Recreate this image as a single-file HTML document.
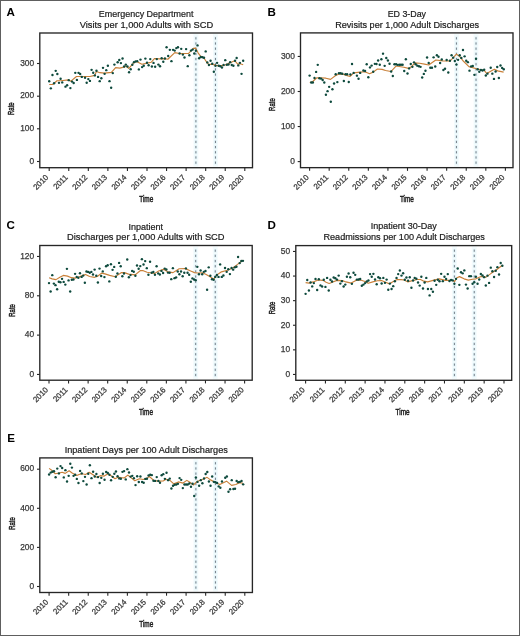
<!DOCTYPE html><html><head><meta charset="utf-8"><style>html,body{margin:0;padding:0;background:#fff;}svg{display:block;will-change:transform}</style></head><body>
<svg width="520" height="636" viewBox="0 0 520 636" font-family='"Liberation Sans", sans-serif'>
<rect x="0" y="0" width="520" height="636" fill="#fff"/>
<rect x="0.5" y="0.5" width="519" height="635" fill="none" stroke="#5e5e5e" stroke-width="1"/>
<text x="6.60" y="16.20" font-size="11.6" font-weight="bold" fill="#000">A</text>
<text x="146.12" y="16.50" font-size="9.35" fill="#1a1a1a" stroke="#1a1a1a" stroke-width="0.2" text-anchor="middle" textLength="94.65" lengthAdjust="spacingAndGlyphs">Emergency Department</text>
<text x="146.40" y="27.80" font-size="9.35" fill="#1a1a1a" stroke="#1a1a1a" stroke-width="0.2" text-anchor="middle" textLength="133.50" lengthAdjust="spacingAndGlyphs">Visits per 1,000 Adults with SCD</text>
<line x1="195.90" y1="34.00" x2="195.90" y2="166.70" stroke="#f3fbfd" stroke-width="5"/>
<path d="M195.90 160.75V164.55M195.90 155.57V159.37M195.90 150.39V154.19M195.90 145.21V149.01M195.90 140.03V143.83M195.90 134.85V138.65M195.90 129.67V133.47M195.90 124.49V128.29M195.90 119.31V123.11M195.90 114.13V117.93M195.90 108.95V112.75M195.90 103.77V107.57M195.90 98.59V102.39M195.90 93.41V97.21M195.90 88.23V92.03M195.90 83.05V86.85M195.90 77.87V81.67M195.90 72.69V76.49M195.90 67.51V71.31M195.90 62.33V66.13M195.90 57.15V60.95M195.90 51.97V55.77M195.90 46.79V50.59M195.90 41.61V45.41M195.90 36.43V40.23" stroke="#e2f3f8" stroke-width="2.6" fill="none"/>
<path d="M195.90 161.55V163.75M195.90 156.37V158.57M195.90 151.19V153.39M195.90 146.01V148.21M195.90 140.83V143.03M195.90 135.65V137.85M195.90 130.47V132.67M195.90 125.29V127.49M195.90 120.11V122.31M195.90 114.93V117.13M195.90 109.75V111.95M195.90 104.57V106.77M195.90 99.39V101.59M195.90 94.21V96.41M195.90 89.03V91.23M195.90 83.85V86.05M195.90 78.67V80.87M195.90 73.49V75.69M195.90 68.31V70.51M195.90 63.13V65.33M195.90 57.95V60.15M195.90 52.77V54.97M195.90 47.59V49.79M195.90 42.41V44.61M195.90 37.23V39.43" stroke="#767f88" stroke-width="1" fill="none"/>
<line x1="215.46" y1="34.00" x2="215.46" y2="166.70" stroke="#f3fbfd" stroke-width="5"/>
<path d="M215.46 160.75V164.55M215.46 155.57V159.37M215.46 150.39V154.19M215.46 145.21V149.01M215.46 140.03V143.83M215.46 134.85V138.65M215.46 129.67V133.47M215.46 124.49V128.29M215.46 119.31V123.11M215.46 114.13V117.93M215.46 108.95V112.75M215.46 103.77V107.57M215.46 98.59V102.39M215.46 93.41V97.21M215.46 88.23V92.03M215.46 83.05V86.85M215.46 77.87V81.67M215.46 72.69V76.49M215.46 67.51V71.31M215.46 62.33V66.13M215.46 57.15V60.95M215.46 51.97V55.77M215.46 46.79V50.59M215.46 41.61V45.41M215.46 36.43V40.23" stroke="#e2f3f8" stroke-width="2.6" fill="none"/>
<path d="M215.46 161.55V163.75M215.46 156.37V158.57M215.46 151.19V153.39M215.46 146.01V148.21M215.46 140.83V143.03M215.46 135.65V137.85M215.46 130.47V132.67M215.46 125.29V127.49M215.46 120.11V122.31M215.46 114.93V117.13M215.46 109.75V111.95M215.46 104.57V106.77M215.46 99.39V101.59M215.46 94.21V96.41M215.46 89.03V91.23M215.46 83.85V86.05M215.46 78.67V80.87M215.46 73.49V75.69M215.46 68.31V70.51M215.46 63.13V65.33M215.46 57.95V60.15M215.46 52.77V54.97M215.46 47.59V49.79M215.46 42.41V44.61M215.46 37.23V39.43" stroke="#767f88" stroke-width="1" fill="none"/>
<polyline points="49.20,84.54 52.77,84.54 57.00,80.73 60.81,80.73 68.42,79.88 70.96,81.15 76.46,76.50 81.54,76.50 86.00,76.54 89.92,76.52 94.85,75.38 96.38,71.54 99.85,72.69 104.46,73.08 111.38,72.31 115.62,67.69 119.85,68.08 124.73,66.92 126.00,65.77 128.85,68.46 133.46,63.08 136.54,61.54 141.92,64.23 147.31,63.08 151.15,62.31 154.62,58.46 159.62,58.85 164.50,58.58 167.85,59.23 174.77,52.69 179.38,53.46 188.62,53.46 193.23,48.31 195.54,48.08 198.23,53.08 200.92,56.54 203.50,57.52 207.23,62.85 208.92,64.54 212.31,64.12 215.69,65.39 219.92,65.81 225.00,64.96 230.08,62.85 234.73,60.73 237.69,64.12 240.23,63.69 243.17,64.71" fill="none" stroke="#c98039" stroke-width="1.15" stroke-linejoin="round"/>
<circle cx="49.20" cy="81.32" r="1.2" fill="#0e4a3d"/>
<circle cx="50.83" cy="88.35" r="1.2" fill="#0e4a3d"/>
<circle cx="52.46" cy="75.06" r="1.2" fill="#0e4a3d"/>
<circle cx="54.09" cy="83.27" r="1.2" fill="#0e4a3d"/>
<circle cx="55.72" cy="70.83" r="1.2" fill="#0e4a3d"/>
<circle cx="57.35" cy="73.96" r="1.2" fill="#0e4a3d"/>
<circle cx="58.98" cy="82.85" r="1.2" fill="#0e4a3d"/>
<circle cx="60.61" cy="78.78" r="1.2" fill="#0e4a3d"/>
<circle cx="62.24" cy="82.42" r="1.2" fill="#0e4a3d"/>
<circle cx="65.50" cy="86.65" r="1.2" fill="#0e4a3d"/>
<circle cx="67.13" cy="85.22" r="1.2" fill="#0e4a3d"/>
<circle cx="68.76" cy="80.14" r="1.2" fill="#0e4a3d"/>
<circle cx="70.39" cy="88.09" r="1.2" fill="#0e4a3d"/>
<circle cx="72.02" cy="81.58" r="1.2" fill="#0e4a3d"/>
<circle cx="73.65" cy="83.02" r="1.2" fill="#0e4a3d"/>
<circle cx="75.28" cy="72.86" r="1.2" fill="#0e4a3d"/>
<circle cx="76.91" cy="79.88" r="1.2" fill="#0e4a3d"/>
<circle cx="78.54" cy="72.86" r="1.2" fill="#0e4a3d"/>
<circle cx="80.17" cy="73.96" r="1.2" fill="#0e4a3d"/>
<circle cx="81.80" cy="76.92" r="1.2" fill="#0e4a3d"/>
<circle cx="85.06" cy="77.77" r="1.2" fill="#0e4a3d"/>
<circle cx="86.69" cy="82.68" r="1.2" fill="#0e4a3d"/>
<circle cx="88.32" cy="79.08" r="1.2" fill="#0e4a3d"/>
<circle cx="89.95" cy="80.92" r="1.2" fill="#0e4a3d"/>
<circle cx="91.58" cy="69.85" r="1.2" fill="#0e4a3d"/>
<circle cx="93.21" cy="72.69" r="1.2" fill="#0e4a3d"/>
<circle cx="94.84" cy="75.38" r="1.2" fill="#0e4a3d"/>
<circle cx="96.47" cy="70.77" r="1.2" fill="#0e4a3d"/>
<circle cx="98.10" cy="76.92" r="1.2" fill="#0e4a3d"/>
<circle cx="99.73" cy="81.15" r="1.2" fill="#0e4a3d"/>
<circle cx="101.36" cy="78.31" r="1.2" fill="#0e4a3d"/>
<circle cx="102.99" cy="67.85" r="1.2" fill="#0e4a3d"/>
<circle cx="104.62" cy="73.85" r="1.2" fill="#0e4a3d"/>
<circle cx="106.25" cy="70.15" r="1.2" fill="#0e4a3d"/>
<circle cx="107.88" cy="65.77" r="1.2" fill="#0e4a3d"/>
<circle cx="109.51" cy="81.15" r="1.2" fill="#0e4a3d"/>
<circle cx="111.14" cy="87.69" r="1.2" fill="#0e4a3d"/>
<circle cx="112.77" cy="73.08" r="1.2" fill="#0e4a3d"/>
<circle cx="114.40" cy="64.62" r="1.2" fill="#0e4a3d"/>
<circle cx="117.66" cy="62.31" r="1.2" fill="#0e4a3d"/>
<circle cx="119.29" cy="60.00" r="1.2" fill="#0e4a3d"/>
<circle cx="120.92" cy="63.08" r="1.2" fill="#0e4a3d"/>
<circle cx="122.55" cy="58.46" r="1.2" fill="#0e4a3d"/>
<circle cx="124.18" cy="66.54" r="1.2" fill="#0e4a3d"/>
<circle cx="125.81" cy="64.62" r="1.2" fill="#0e4a3d"/>
<circle cx="127.44" cy="66.54" r="1.2" fill="#0e4a3d"/>
<circle cx="129.07" cy="72.31" r="1.2" fill="#0e4a3d"/>
<circle cx="130.70" cy="69.23" r="1.2" fill="#0e4a3d"/>
<circle cx="132.33" cy="64.77" r="1.2" fill="#0e4a3d"/>
<circle cx="133.96" cy="62.15" r="1.2" fill="#0e4a3d"/>
<circle cx="135.59" cy="61.38" r="1.2" fill="#0e4a3d"/>
<circle cx="137.22" cy="61.15" r="1.2" fill="#0e4a3d"/>
<circle cx="138.85" cy="69.38" r="1.2" fill="#0e4a3d"/>
<circle cx="140.48" cy="59.62" r="1.2" fill="#0e4a3d"/>
<circle cx="142.11" cy="67.08" r="1.2" fill="#0e4a3d"/>
<circle cx="143.74" cy="65.77" r="1.2" fill="#0e4a3d"/>
<circle cx="145.37" cy="58.62" r="1.2" fill="#0e4a3d"/>
<circle cx="147.00" cy="62.69" r="1.2" fill="#0e4a3d"/>
<circle cx="148.63" cy="65.23" r="1.2" fill="#0e4a3d"/>
<circle cx="150.26" cy="59.08" r="1.2" fill="#0e4a3d"/>
<circle cx="151.89" cy="66.54" r="1.2" fill="#0e4a3d"/>
<circle cx="153.52" cy="62.92" r="1.2" fill="#0e4a3d"/>
<circle cx="155.15" cy="66.77" r="1.2" fill="#0e4a3d"/>
<circle cx="156.78" cy="59.08" r="1.2" fill="#0e4a3d"/>
<circle cx="158.41" cy="64.62" r="1.2" fill="#0e4a3d"/>
<circle cx="160.04" cy="66.31" r="1.2" fill="#0e4a3d"/>
<circle cx="161.67" cy="58.31" r="1.2" fill="#0e4a3d"/>
<circle cx="163.30" cy="61.69" r="1.2" fill="#0e4a3d"/>
<circle cx="164.93" cy="58.46" r="1.2" fill="#0e4a3d"/>
<circle cx="166.56" cy="47.31" r="1.2" fill="#0e4a3d"/>
<circle cx="168.19" cy="56.00" r="1.2" fill="#0e4a3d"/>
<circle cx="169.82" cy="49.85" r="1.2" fill="#0e4a3d"/>
<circle cx="171.45" cy="61.15" r="1.2" fill="#0e4a3d"/>
<circle cx="173.08" cy="49.85" r="1.2" fill="#0e4a3d"/>
<circle cx="174.71" cy="50.62" r="1.2" fill="#0e4a3d"/>
<circle cx="176.34" cy="48.08" r="1.2" fill="#0e4a3d"/>
<circle cx="177.97" cy="47.31" r="1.2" fill="#0e4a3d"/>
<circle cx="179.60" cy="53.46" r="1.2" fill="#0e4a3d"/>
<circle cx="181.23" cy="48.85" r="1.2" fill="#0e4a3d"/>
<circle cx="182.86" cy="54.62" r="1.2" fill="#0e4a3d"/>
<circle cx="184.49" cy="57.54" r="1.2" fill="#0e4a3d"/>
<circle cx="186.12" cy="49.08" r="1.2" fill="#0e4a3d"/>
<circle cx="187.75" cy="66.15" r="1.2" fill="#0e4a3d"/>
<circle cx="189.38" cy="55.23" r="1.2" fill="#0e4a3d"/>
<circle cx="191.01" cy="50.62" r="1.2" fill="#0e4a3d"/>
<circle cx="192.64" cy="49.62" r="1.2" fill="#0e4a3d"/>
<circle cx="194.27" cy="53.46" r="1.2" fill="#0e4a3d"/>
<circle cx="195.90" cy="50.77" r="1.2" fill="#0e4a3d"/>
<circle cx="197.53" cy="45.38" r="1.2" fill="#0e4a3d"/>
<circle cx="199.16" cy="58.31" r="1.2" fill="#0e4a3d"/>
<circle cx="200.79" cy="56.92" r="1.2" fill="#0e4a3d"/>
<circle cx="202.42" cy="57.31" r="1.2" fill="#0e4a3d"/>
<circle cx="204.05" cy="57.77" r="1.2" fill="#0e4a3d"/>
<circle cx="205.68" cy="51.42" r="1.2" fill="#0e4a3d"/>
<circle cx="207.31" cy="62.42" r="1.2" fill="#0e4a3d"/>
<circle cx="208.94" cy="64.96" r="1.2" fill="#0e4a3d"/>
<circle cx="210.57" cy="60.73" r="1.2" fill="#0e4a3d"/>
<circle cx="212.20" cy="63.69" r="1.2" fill="#0e4a3d"/>
<circle cx="213.83" cy="71.73" r="1.2" fill="#0e4a3d"/>
<circle cx="215.46" cy="65.81" r="1.2" fill="#0e4a3d"/>
<circle cx="217.09" cy="62.85" r="1.2" fill="#0e4a3d"/>
<circle cx="218.72" cy="65.81" r="1.2" fill="#0e4a3d"/>
<circle cx="220.35" cy="66.23" r="1.2" fill="#0e4a3d"/>
<circle cx="221.98" cy="67.50" r="1.2" fill="#0e4a3d"/>
<circle cx="223.61" cy="64.96" r="1.2" fill="#0e4a3d"/>
<circle cx="225.24" cy="60.14" r="1.2" fill="#0e4a3d"/>
<circle cx="226.87" cy="64.71" r="1.2" fill="#0e4a3d"/>
<circle cx="228.50" cy="64.54" r="1.2" fill="#0e4a3d"/>
<circle cx="230.13" cy="62.17" r="1.2" fill="#0e4a3d"/>
<circle cx="231.76" cy="64.96" r="1.2" fill="#0e4a3d"/>
<circle cx="233.39" cy="65.81" r="1.2" fill="#0e4a3d"/>
<circle cx="235.02" cy="60.73" r="1.2" fill="#0e4a3d"/>
<circle cx="236.65" cy="57.94" r="1.2" fill="#0e4a3d"/>
<circle cx="238.28" cy="65.39" r="1.2" fill="#0e4a3d"/>
<circle cx="239.91" cy="62.85" r="1.2" fill="#0e4a3d"/>
<circle cx="241.54" cy="73.85" r="1.2" fill="#0e4a3d"/>
<circle cx="243.17" cy="60.73" r="1.2" fill="#0e4a3d"/>
<rect x="39.80" y="33.00" width="212.70" height="134.70" fill="none" stroke="#262626" stroke-width="1.35"/>
<line x1="37.00" y1="161.50" x2="39.80" y2="161.50" stroke="#262626" stroke-width="1.1"/>
<text x="34.20" y="163.75" font-size="8.4" fill="#3a3a3a" stroke="#3a3a3a" stroke-width="0.25" text-anchor="end">0</text>
<line x1="37.00" y1="128.80" x2="39.80" y2="128.80" stroke="#262626" stroke-width="1.1"/>
<text x="34.20" y="131.05" font-size="8.4" fill="#3a3a3a" stroke="#3a3a3a" stroke-width="0.25" text-anchor="end">100</text>
<line x1="37.00" y1="96.20" x2="39.80" y2="96.20" stroke="#262626" stroke-width="1.1"/>
<text x="34.20" y="98.45" font-size="8.4" fill="#3a3a3a" stroke="#3a3a3a" stroke-width="0.25" text-anchor="end">200</text>
<line x1="37.00" y1="63.50" x2="39.80" y2="63.50" stroke="#262626" stroke-width="1.1"/>
<text x="34.20" y="65.75" font-size="8.4" fill="#3a3a3a" stroke="#3a3a3a" stroke-width="0.25" text-anchor="end">300</text>
<line x1="49.20" y1="167.70" x2="49.20" y2="170.90" stroke="#262626" stroke-width="1.1"/>
<text transform="translate(44.90,173.90) rotate(-45)" x="0" y="0" font-size="7.9" fill="#3a3a3a" stroke="#3a3a3a" stroke-width="0.25" text-anchor="end" dominant-baseline="hanging">2010</text>
<line x1="68.76" y1="167.70" x2="68.76" y2="170.90" stroke="#262626" stroke-width="1.1"/>
<text transform="translate(64.46,173.90) rotate(-45)" x="0" y="0" font-size="7.9" fill="#3a3a3a" stroke="#3a3a3a" stroke-width="0.25" text-anchor="end" dominant-baseline="hanging">2011</text>
<line x1="88.32" y1="167.70" x2="88.32" y2="170.90" stroke="#262626" stroke-width="1.1"/>
<text transform="translate(84.02,173.90) rotate(-45)" x="0" y="0" font-size="7.9" fill="#3a3a3a" stroke="#3a3a3a" stroke-width="0.25" text-anchor="end" dominant-baseline="hanging">2012</text>
<line x1="107.88" y1="167.70" x2="107.88" y2="170.90" stroke="#262626" stroke-width="1.1"/>
<text transform="translate(103.58,173.90) rotate(-45)" x="0" y="0" font-size="7.9" fill="#3a3a3a" stroke="#3a3a3a" stroke-width="0.25" text-anchor="end" dominant-baseline="hanging">2013</text>
<line x1="127.44" y1="167.70" x2="127.44" y2="170.90" stroke="#262626" stroke-width="1.1"/>
<text transform="translate(123.14,173.90) rotate(-45)" x="0" y="0" font-size="7.9" fill="#3a3a3a" stroke="#3a3a3a" stroke-width="0.25" text-anchor="end" dominant-baseline="hanging">2014</text>
<line x1="147.00" y1="167.70" x2="147.00" y2="170.90" stroke="#262626" stroke-width="1.1"/>
<text transform="translate(142.70,173.90) rotate(-45)" x="0" y="0" font-size="7.9" fill="#3a3a3a" stroke="#3a3a3a" stroke-width="0.25" text-anchor="end" dominant-baseline="hanging">2015</text>
<line x1="166.56" y1="167.70" x2="166.56" y2="170.90" stroke="#262626" stroke-width="1.1"/>
<text transform="translate(162.26,173.90) rotate(-45)" x="0" y="0" font-size="7.9" fill="#3a3a3a" stroke="#3a3a3a" stroke-width="0.25" text-anchor="end" dominant-baseline="hanging">2016</text>
<line x1="186.12" y1="167.70" x2="186.12" y2="170.90" stroke="#262626" stroke-width="1.1"/>
<text transform="translate(181.82,173.90) rotate(-45)" x="0" y="0" font-size="7.9" fill="#3a3a3a" stroke="#3a3a3a" stroke-width="0.25" text-anchor="end" dominant-baseline="hanging">2017</text>
<line x1="205.68" y1="167.70" x2="205.68" y2="170.90" stroke="#262626" stroke-width="1.1"/>
<text transform="translate(201.38,173.90) rotate(-45)" x="0" y="0" font-size="7.9" fill="#3a3a3a" stroke="#3a3a3a" stroke-width="0.25" text-anchor="end" dominant-baseline="hanging">2018</text>
<line x1="225.24" y1="167.70" x2="225.24" y2="170.90" stroke="#262626" stroke-width="1.1"/>
<text transform="translate(220.94,173.90) rotate(-45)" x="0" y="0" font-size="7.9" fill="#3a3a3a" stroke="#3a3a3a" stroke-width="0.25" text-anchor="end" dominant-baseline="hanging">2019</text>
<line x1="244.80" y1="167.70" x2="244.80" y2="170.90" stroke="#262626" stroke-width="1.1"/>
<text transform="translate(240.50,173.90) rotate(-45)" x="0" y="0" font-size="7.9" fill="#3a3a3a" stroke="#3a3a3a" stroke-width="0.25" text-anchor="end" dominant-baseline="hanging">2020</text>
<text x="146.25" y="202.10" font-size="8.6" fill="#1a1a1a" stroke="#1a1a1a" stroke-width="0.45" text-anchor="middle" textLength="14.0" lengthAdjust="spacingAndGlyphs">Time</text>
<text transform="translate(14.40,108.70) rotate(-90)" x="0" y="0" font-size="9.6" fill="#1a1a1a" stroke="#1a1a1a" stroke-width="0.45" text-anchor="middle" textLength="12.6" lengthAdjust="spacingAndGlyphs">Rate</text>
<text x="267.40" y="16.30" font-size="11.6" font-weight="bold" fill="#000">B</text>
<text x="406.85" y="16.50" font-size="9.35" fill="#1a1a1a" stroke="#1a1a1a" stroke-width="0.2" text-anchor="middle" textLength="38.40" lengthAdjust="spacingAndGlyphs">ED 3-Day</text>
<text x="407.15" y="27.70" font-size="9.35" fill="#1a1a1a" stroke="#1a1a1a" stroke-width="0.2" text-anchor="middle" textLength="144.00" lengthAdjust="spacingAndGlyphs">Revisits per 1,000 Adult Discharges</text>
<line x1="456.45" y1="33.90" x2="456.45" y2="166.65" stroke="#f3fbfd" stroke-width="5"/>
<path d="M456.45 160.75V164.55M456.45 155.57V159.37M456.45 150.39V154.19M456.45 145.21V149.01M456.45 140.03V143.83M456.45 134.85V138.65M456.45 129.67V133.47M456.45 124.49V128.29M456.45 119.31V123.11M456.45 114.13V117.93M456.45 108.95V112.75M456.45 103.77V107.57M456.45 98.59V102.39M456.45 93.41V97.21M456.45 88.23V92.03M456.45 83.05V86.85M456.45 77.87V81.67M456.45 72.69V76.49M456.45 67.51V71.31M456.45 62.33V66.13M456.45 57.15V60.95M456.45 51.97V55.77M456.45 46.79V50.59M456.45 41.61V45.41M456.45 36.43V40.23" stroke="#e2f3f8" stroke-width="2.6" fill="none"/>
<path d="M456.45 161.55V163.75M456.45 156.37V158.57M456.45 151.19V153.39M456.45 146.01V148.21M456.45 140.83V143.03M456.45 135.65V137.85M456.45 130.47V132.67M456.45 125.29V127.49M456.45 120.11V122.31M456.45 114.93V117.13M456.45 109.75V111.95M456.45 104.57V106.77M456.45 99.39V101.59M456.45 94.21V96.41M456.45 89.03V91.23M456.45 83.85V86.05M456.45 78.67V80.87M456.45 73.49V75.69M456.45 68.31V70.51M456.45 63.13V65.33M456.45 57.95V60.15M456.45 52.77V54.97M456.45 47.59V49.79M456.45 42.41V44.61M456.45 37.23V39.43" stroke="#767f88" stroke-width="1" fill="none"/>
<line x1="476.03" y1="33.90" x2="476.03" y2="166.65" stroke="#f3fbfd" stroke-width="5"/>
<path d="M476.03 160.75V164.55M476.03 155.57V159.37M476.03 150.39V154.19M476.03 145.21V149.01M476.03 140.03V143.83M476.03 134.85V138.65M476.03 129.67V133.47M476.03 124.49V128.29M476.03 119.31V123.11M476.03 114.13V117.93M476.03 108.95V112.75M476.03 103.77V107.57M476.03 98.59V102.39M476.03 93.41V97.21M476.03 88.23V92.03M476.03 83.05V86.85M476.03 77.87V81.67M476.03 72.69V76.49M476.03 67.51V71.31M476.03 62.33V66.13M476.03 57.15V60.95M476.03 51.97V55.77M476.03 46.79V50.59M476.03 41.61V45.41M476.03 36.43V40.23" stroke="#e2f3f8" stroke-width="2.6" fill="none"/>
<path d="M476.03 161.55V163.75M476.03 156.37V158.57M476.03 151.19V153.39M476.03 146.01V148.21M476.03 140.83V143.03M476.03 135.65V137.85M476.03 130.47V132.67M476.03 125.29V127.49M476.03 120.11V122.31M476.03 114.93V117.13M476.03 109.75V111.95M476.03 104.57V106.77M476.03 99.39V101.59M476.03 94.21V96.41M476.03 89.03V91.23M476.03 83.85V86.05M476.03 78.67V80.87M476.03 73.49V75.69M476.03 68.31V70.51M476.03 63.13V65.33M476.03 57.95V60.15M476.03 52.77V54.97M476.03 47.59V49.79M476.03 42.41V44.61M476.03 37.23V39.43" stroke="#767f88" stroke-width="1" fill="none"/>
<polyline points="309.75,82.52 312.50,81.73 316.83,77.80 319.58,77.80 325.87,78.19 330.58,79.37 335.30,75.83 338.45,74.26 342.38,73.87 346.51,75.35 349.93,76.45 353.86,72.91 360.15,72.12 364.87,71.73 369.58,73.69 373.12,72.12 377.45,68.98 382.16,69.37 385.51,70.46 390.90,71.56 396.01,66.05 403.87,67.23 408.58,68.41 411.73,66.45 414.87,62.91 419.59,63.30 424.51,64.14 428.72,64.98 435.79,60.03 442.87,60.82 449.94,61.05 453.09,57.91 456.39,54.21 457.96,55.31 459.77,56.57 463.51,61.28 468.92,66.65 476.54,68.76 484.15,70.46 486.69,73.42 494.30,69.19 497.69,70.88 503.61,72.15" fill="none" stroke="#c98039" stroke-width="1.15" stroke-linejoin="round"/>
<circle cx="309.60" cy="75.60" r="1.2" fill="#0e4a3d"/>
<circle cx="311.23" cy="82.52" r="1.2" fill="#0e4a3d"/>
<circle cx="312.86" cy="82.52" r="1.2" fill="#0e4a3d"/>
<circle cx="314.50" cy="77.96" r="1.2" fill="#0e4a3d"/>
<circle cx="316.13" cy="71.90" r="1.2" fill="#0e4a3d"/>
<circle cx="317.76" cy="64.83" r="1.2" fill="#0e4a3d"/>
<circle cx="319.39" cy="78.19" r="1.2" fill="#0e4a3d"/>
<circle cx="321.02" cy="78.58" r="1.2" fill="#0e4a3d"/>
<circle cx="322.65" cy="80.00" r="1.2" fill="#0e4a3d"/>
<circle cx="324.29" cy="82.52" r="1.2" fill="#0e4a3d"/>
<circle cx="325.92" cy="94.70" r="1.2" fill="#0e4a3d"/>
<circle cx="327.55" cy="91.16" r="1.2" fill="#0e4a3d"/>
<circle cx="329.18" cy="86.84" r="1.2" fill="#0e4a3d"/>
<circle cx="330.81" cy="101.78" r="1.2" fill="#0e4a3d"/>
<circle cx="332.44" cy="89.20" r="1.2" fill="#0e4a3d"/>
<circle cx="334.08" cy="83.46" r="1.2" fill="#0e4a3d"/>
<circle cx="335.71" cy="74.26" r="1.2" fill="#0e4a3d"/>
<circle cx="337.34" cy="82.12" r="1.2" fill="#0e4a3d"/>
<circle cx="338.97" cy="73.24" r="1.2" fill="#0e4a3d"/>
<circle cx="340.60" cy="73.24" r="1.2" fill="#0e4a3d"/>
<circle cx="342.23" cy="73.71" r="1.2" fill="#0e4a3d"/>
<circle cx="343.87" cy="80.94" r="1.2" fill="#0e4a3d"/>
<circle cx="345.50" cy="74.26" r="1.2" fill="#0e4a3d"/>
<circle cx="347.13" cy="74.25" r="1.2" fill="#0e4a3d"/>
<circle cx="348.76" cy="81.95" r="1.2" fill="#0e4a3d"/>
<circle cx="350.39" cy="74.48" r="1.2" fill="#0e4a3d"/>
<circle cx="352.02" cy="64.03" r="1.2" fill="#0e4a3d"/>
<circle cx="353.66" cy="72.91" r="1.2" fill="#0e4a3d"/>
<circle cx="356.92" cy="75.66" r="1.2" fill="#0e4a3d"/>
<circle cx="358.55" cy="78.81" r="1.2" fill="#0e4a3d"/>
<circle cx="360.18" cy="72.91" r="1.2" fill="#0e4a3d"/>
<circle cx="363.44" cy="70.55" r="1.2" fill="#0e4a3d"/>
<circle cx="365.08" cy="70.94" r="1.2" fill="#0e4a3d"/>
<circle cx="366.71" cy="64.26" r="1.2" fill="#0e4a3d"/>
<circle cx="368.34" cy="77.23" r="1.2" fill="#0e4a3d"/>
<circle cx="369.97" cy="67.41" r="1.2" fill="#0e4a3d"/>
<circle cx="371.60" cy="65.60" r="1.2" fill="#0e4a3d"/>
<circle cx="373.24" cy="71.73" r="1.2" fill="#0e4a3d"/>
<circle cx="374.87" cy="63.87" r="1.2" fill="#0e4a3d"/>
<circle cx="376.50" cy="64.03" r="1.2" fill="#0e4a3d"/>
<circle cx="378.13" cy="60.57" r="1.2" fill="#0e4a3d"/>
<circle cx="379.76" cy="64.81" r="1.2" fill="#0e4a3d"/>
<circle cx="381.39" cy="59.31" r="1.2" fill="#0e4a3d"/>
<circle cx="383.02" cy="53.65" r="1.2" fill="#0e4a3d"/>
<circle cx="384.66" cy="65.83" r="1.2" fill="#0e4a3d"/>
<circle cx="386.29" cy="57.97" r="1.2" fill="#0e4a3d"/>
<circle cx="387.92" cy="60.55" r="1.2" fill="#0e4a3d"/>
<circle cx="389.55" cy="63.69" r="1.2" fill="#0e4a3d"/>
<circle cx="391.18" cy="71.56" r="1.2" fill="#0e4a3d"/>
<circle cx="392.81" cy="76.04" r="1.2" fill="#0e4a3d"/>
<circle cx="394.45" cy="64.25" r="1.2" fill="#0e4a3d"/>
<circle cx="396.08" cy="64.25" r="1.2" fill="#0e4a3d"/>
<circle cx="397.71" cy="64.87" r="1.2" fill="#0e4a3d"/>
<circle cx="399.34" cy="64.72" r="1.2" fill="#0e4a3d"/>
<circle cx="400.97" cy="64.72" r="1.2" fill="#0e4a3d"/>
<circle cx="402.61" cy="64.72" r="1.2" fill="#0e4a3d"/>
<circle cx="404.24" cy="71.01" r="1.2" fill="#0e4a3d"/>
<circle cx="405.87" cy="59.21" r="1.2" fill="#0e4a3d"/>
<circle cx="407.50" cy="73.52" r="1.2" fill="#0e4a3d"/>
<circle cx="409.13" cy="68.41" r="1.2" fill="#0e4a3d"/>
<circle cx="410.76" cy="63.93" r="1.2" fill="#0e4a3d"/>
<circle cx="412.39" cy="66.84" r="1.2" fill="#0e4a3d"/>
<circle cx="414.03" cy="62.36" r="1.2" fill="#0e4a3d"/>
<circle cx="415.66" cy="64.25" r="1.2" fill="#0e4a3d"/>
<circle cx="417.29" cy="65.66" r="1.2" fill="#0e4a3d"/>
<circle cx="418.92" cy="66.29" r="1.2" fill="#0e4a3d"/>
<circle cx="420.55" cy="66.84" r="1.2" fill="#0e4a3d"/>
<circle cx="422.19" cy="77.45" r="1.2" fill="#0e4a3d"/>
<circle cx="423.82" cy="73.92" r="1.2" fill="#0e4a3d"/>
<circle cx="425.45" cy="70.77" r="1.2" fill="#0e4a3d"/>
<circle cx="427.08" cy="57.52" r="1.2" fill="#0e4a3d"/>
<circle cx="428.71" cy="63.02" r="1.2" fill="#0e4a3d"/>
<circle cx="430.34" cy="67.74" r="1.2" fill="#0e4a3d"/>
<circle cx="431.98" cy="67.74" r="1.2" fill="#0e4a3d"/>
<circle cx="433.61" cy="57.36" r="1.2" fill="#0e4a3d"/>
<circle cx="435.24" cy="66.56" r="1.2" fill="#0e4a3d"/>
<circle cx="436.87" cy="55.31" r="1.2" fill="#0e4a3d"/>
<circle cx="438.50" cy="56.73" r="1.2" fill="#0e4a3d"/>
<circle cx="440.13" cy="63.02" r="1.2" fill="#0e4a3d"/>
<circle cx="441.76" cy="59.48" r="1.2" fill="#0e4a3d"/>
<circle cx="443.40" cy="69.94" r="1.2" fill="#0e4a3d"/>
<circle cx="445.03" cy="68.68" r="1.2" fill="#0e4a3d"/>
<circle cx="446.66" cy="60.03" r="1.2" fill="#0e4a3d"/>
<circle cx="448.29" cy="72.45" r="1.2" fill="#0e4a3d"/>
<circle cx="449.92" cy="60.82" r="1.2" fill="#0e4a3d"/>
<circle cx="451.56" cy="55.31" r="1.2" fill="#0e4a3d"/>
<circle cx="453.19" cy="57.67" r="1.2" fill="#0e4a3d"/>
<circle cx="454.82" cy="61.05" r="1.2" fill="#0e4a3d"/>
<circle cx="456.45" cy="64.59" r="1.2" fill="#0e4a3d"/>
<circle cx="458.08" cy="59.87" r="1.2" fill="#0e4a3d"/>
<circle cx="459.71" cy="55.31" r="1.2" fill="#0e4a3d"/>
<circle cx="461.35" cy="57.91" r="1.2" fill="#0e4a3d"/>
<circle cx="462.98" cy="50.05" r="1.2" fill="#0e4a3d"/>
<circle cx="464.61" cy="56.34" r="1.2" fill="#0e4a3d"/>
<circle cx="466.24" cy="60.73" r="1.2" fill="#0e4a3d"/>
<circle cx="467.87" cy="62.17" r="1.2" fill="#0e4a3d"/>
<circle cx="469.50" cy="70.63" r="1.2" fill="#0e4a3d"/>
<circle cx="471.13" cy="66.40" r="1.2" fill="#0e4a3d"/>
<circle cx="472.77" cy="66.06" r="1.2" fill="#0e4a3d"/>
<circle cx="474.40" cy="74.86" r="1.2" fill="#0e4a3d"/>
<circle cx="476.03" cy="58.78" r="1.2" fill="#0e4a3d"/>
<circle cx="477.66" cy="69.19" r="1.2" fill="#0e4a3d"/>
<circle cx="479.29" cy="71.73" r="1.2" fill="#0e4a3d"/>
<circle cx="480.92" cy="70.03" r="1.2" fill="#0e4a3d"/>
<circle cx="482.56" cy="70.46" r="1.2" fill="#0e4a3d"/>
<circle cx="484.19" cy="69.78" r="1.2" fill="#0e4a3d"/>
<circle cx="485.82" cy="75.53" r="1.2" fill="#0e4a3d"/>
<circle cx="487.45" cy="73.67" r="1.2" fill="#0e4a3d"/>
<circle cx="490.72" cy="67.75" r="1.2" fill="#0e4a3d"/>
<circle cx="492.35" cy="73.67" r="1.2" fill="#0e4a3d"/>
<circle cx="493.98" cy="78.92" r="1.2" fill="#0e4a3d"/>
<circle cx="495.61" cy="71.47" r="1.2" fill="#0e4a3d"/>
<circle cx="497.24" cy="67.07" r="1.2" fill="#0e4a3d"/>
<circle cx="498.87" cy="78.07" r="1.2" fill="#0e4a3d"/>
<circle cx="500.50" cy="65.55" r="1.2" fill="#0e4a3d"/>
<circle cx="502.14" cy="67.92" r="1.2" fill="#0e4a3d"/>
<circle cx="503.77" cy="69.19" r="1.2" fill="#0e4a3d"/>
<rect x="300.50" y="32.90" width="212.50" height="134.75" fill="none" stroke="#262626" stroke-width="1.35"/>
<line x1="297.70" y1="161.60" x2="300.50" y2="161.60" stroke="#262626" stroke-width="1.1"/>
<text x="294.90" y="163.85" font-size="8.4" fill="#3a3a3a" stroke="#3a3a3a" stroke-width="0.25" text-anchor="end">0</text>
<line x1="297.70" y1="126.55" x2="300.50" y2="126.55" stroke="#262626" stroke-width="1.1"/>
<text x="294.90" y="128.80" font-size="8.4" fill="#3a3a3a" stroke="#3a3a3a" stroke-width="0.25" text-anchor="end">100</text>
<line x1="297.70" y1="91.50" x2="300.50" y2="91.50" stroke="#262626" stroke-width="1.1"/>
<text x="294.90" y="93.75" font-size="8.4" fill="#3a3a3a" stroke="#3a3a3a" stroke-width="0.25" text-anchor="end">200</text>
<line x1="297.70" y1="56.45" x2="300.50" y2="56.45" stroke="#262626" stroke-width="1.1"/>
<text x="294.90" y="58.70" font-size="8.4" fill="#3a3a3a" stroke="#3a3a3a" stroke-width="0.25" text-anchor="end">300</text>
<line x1="309.60" y1="167.65" x2="309.60" y2="170.85" stroke="#262626" stroke-width="1.1"/>
<text transform="translate(305.30,173.85) rotate(-45)" x="0" y="0" font-size="7.9" fill="#3a3a3a" stroke="#3a3a3a" stroke-width="0.25" text-anchor="end" dominant-baseline="hanging">2010</text>
<line x1="329.18" y1="167.65" x2="329.18" y2="170.85" stroke="#262626" stroke-width="1.1"/>
<text transform="translate(324.88,173.85) rotate(-45)" x="0" y="0" font-size="7.9" fill="#3a3a3a" stroke="#3a3a3a" stroke-width="0.25" text-anchor="end" dominant-baseline="hanging">2011</text>
<line x1="348.76" y1="167.65" x2="348.76" y2="170.85" stroke="#262626" stroke-width="1.1"/>
<text transform="translate(344.46,173.85) rotate(-45)" x="0" y="0" font-size="7.9" fill="#3a3a3a" stroke="#3a3a3a" stroke-width="0.25" text-anchor="end" dominant-baseline="hanging">2012</text>
<line x1="368.34" y1="167.65" x2="368.34" y2="170.85" stroke="#262626" stroke-width="1.1"/>
<text transform="translate(364.04,173.85) rotate(-45)" x="0" y="0" font-size="7.9" fill="#3a3a3a" stroke="#3a3a3a" stroke-width="0.25" text-anchor="end" dominant-baseline="hanging">2013</text>
<line x1="387.92" y1="167.65" x2="387.92" y2="170.85" stroke="#262626" stroke-width="1.1"/>
<text transform="translate(383.62,173.85) rotate(-45)" x="0" y="0" font-size="7.9" fill="#3a3a3a" stroke="#3a3a3a" stroke-width="0.25" text-anchor="end" dominant-baseline="hanging">2014</text>
<line x1="407.50" y1="167.65" x2="407.50" y2="170.85" stroke="#262626" stroke-width="1.1"/>
<text transform="translate(403.20,173.85) rotate(-45)" x="0" y="0" font-size="7.9" fill="#3a3a3a" stroke="#3a3a3a" stroke-width="0.25" text-anchor="end" dominant-baseline="hanging">2015</text>
<line x1="427.08" y1="167.65" x2="427.08" y2="170.85" stroke="#262626" stroke-width="1.1"/>
<text transform="translate(422.78,173.85) rotate(-45)" x="0" y="0" font-size="7.9" fill="#3a3a3a" stroke="#3a3a3a" stroke-width="0.25" text-anchor="end" dominant-baseline="hanging">2016</text>
<line x1="446.66" y1="167.65" x2="446.66" y2="170.85" stroke="#262626" stroke-width="1.1"/>
<text transform="translate(442.36,173.85) rotate(-45)" x="0" y="0" font-size="7.9" fill="#3a3a3a" stroke="#3a3a3a" stroke-width="0.25" text-anchor="end" dominant-baseline="hanging">2017</text>
<line x1="466.24" y1="167.65" x2="466.24" y2="170.85" stroke="#262626" stroke-width="1.1"/>
<text transform="translate(461.94,173.85) rotate(-45)" x="0" y="0" font-size="7.9" fill="#3a3a3a" stroke="#3a3a3a" stroke-width="0.25" text-anchor="end" dominant-baseline="hanging">2018</text>
<line x1="485.82" y1="167.65" x2="485.82" y2="170.85" stroke="#262626" stroke-width="1.1"/>
<text transform="translate(481.52,173.85) rotate(-45)" x="0" y="0" font-size="7.9" fill="#3a3a3a" stroke="#3a3a3a" stroke-width="0.25" text-anchor="end" dominant-baseline="hanging">2019</text>
<line x1="505.40" y1="167.65" x2="505.40" y2="170.85" stroke="#262626" stroke-width="1.1"/>
<text transform="translate(501.10,173.85) rotate(-45)" x="0" y="0" font-size="7.9" fill="#3a3a3a" stroke="#3a3a3a" stroke-width="0.25" text-anchor="end" dominant-baseline="hanging">2020</text>
<text x="406.90" y="202.05" font-size="8.6" fill="#1a1a1a" stroke="#1a1a1a" stroke-width="0.45" text-anchor="middle" textLength="14.0" lengthAdjust="spacingAndGlyphs">Time</text>
<text transform="translate(275.00,104.60) rotate(-90)" x="0" y="0" font-size="9.6" fill="#1a1a1a" stroke="#1a1a1a" stroke-width="0.45" text-anchor="middle" textLength="12.6" lengthAdjust="spacingAndGlyphs">Rate</text>
<text x="6.60" y="229.20" font-size="11.6" font-weight="bold" fill="#000">C</text>
<text x="145.75" y="229.60" font-size="9.35" fill="#1a1a1a" stroke="#1a1a1a" stroke-width="0.2" text-anchor="middle" textLength="34.60" lengthAdjust="spacingAndGlyphs">Inpatient</text>
<text x="145.80" y="240.40" font-size="9.35" fill="#1a1a1a" stroke="#1a1a1a" stroke-width="0.2" text-anchor="middle" textLength="157.50" lengthAdjust="spacingAndGlyphs">Discharges per 1,000 Adults with SCD</text>
<line x1="195.70" y1="246.50" x2="195.70" y2="379.20" stroke="#f3fbfd" stroke-width="5"/>
<path d="M195.70 373.10V376.90M195.70 367.92V371.72M195.70 362.74V366.54M195.70 357.56V361.36M195.70 352.38V356.18M195.70 347.20V351.00M195.70 342.02V345.82M195.70 336.84V340.64M195.70 331.66V335.46M195.70 326.48V330.28M195.70 321.30V325.10M195.70 316.12V319.92M195.70 310.94V314.74M195.70 305.76V309.56M195.70 300.58V304.38M195.70 295.40V299.20M195.70 290.22V294.02M195.70 285.04V288.84M195.70 279.86V283.66M195.70 274.68V278.48M195.70 269.50V273.30M195.70 264.32V268.12M195.70 259.14V262.94M195.70 253.96V257.76M195.70 248.78V252.58" stroke="#e2f3f8" stroke-width="2.6" fill="none"/>
<path d="M195.70 373.90V376.10M195.70 368.72V370.92M195.70 363.54V365.74M195.70 358.36V360.56M195.70 353.18V355.38M195.70 348.00V350.20M195.70 342.82V345.02M195.70 337.64V339.84M195.70 332.46V334.66M195.70 327.28V329.48M195.70 322.10V324.30M195.70 316.92V319.12M195.70 311.74V313.94M195.70 306.56V308.76M195.70 301.38V303.58M195.70 296.20V298.40M195.70 291.02V293.22M195.70 285.84V288.04M195.70 280.66V282.86M195.70 275.48V277.68M195.70 270.30V272.50M195.70 265.12V267.32M195.70 259.94V262.14M195.70 254.76V256.96M195.70 249.58V251.78" stroke="#767f88" stroke-width="1" fill="none"/>
<line x1="215.26" y1="246.50" x2="215.26" y2="379.20" stroke="#f3fbfd" stroke-width="5"/>
<path d="M215.26 373.10V376.90M215.26 367.92V371.72M215.26 362.74V366.54M215.26 357.56V361.36M215.26 352.38V356.18M215.26 347.20V351.00M215.26 342.02V345.82M215.26 336.84V340.64M215.26 331.66V335.46M215.26 326.48V330.28M215.26 321.30V325.10M215.26 316.12V319.92M215.26 310.94V314.74M215.26 305.76V309.56M215.26 300.58V304.38M215.26 295.40V299.20M215.26 290.22V294.02M215.26 285.04V288.84M215.26 279.86V283.66M215.26 274.68V278.48M215.26 269.50V273.30M215.26 264.32V268.12M215.26 259.14V262.94M215.26 253.96V257.76M215.26 248.78V252.58" stroke="#e2f3f8" stroke-width="2.6" fill="none"/>
<path d="M215.26 373.90V376.10M215.26 368.72V370.92M215.26 363.54V365.74M215.26 358.36V360.56M215.26 353.18V355.38M215.26 348.00V350.20M215.26 342.82V345.02M215.26 337.64V339.84M215.26 332.46V334.66M215.26 327.28V329.48M215.26 322.10V324.30M215.26 316.92V319.12M215.26 311.74V313.94M215.26 306.56V308.76M215.26 301.38V303.58M215.26 296.20V298.40M215.26 291.02V293.22M215.26 285.84V288.04M215.26 280.66V282.86M215.26 275.48V277.68M215.26 270.30V272.50M215.26 265.12V267.32M215.26 259.94V262.14M215.26 254.76V256.96M215.26 249.58V251.78" stroke="#767f88" stroke-width="1" fill="none"/>
<polyline points="49.08,277.69 52.15,278.85 56.00,279.62 59.85,277.31 63.31,275.38 67.54,276.15 71.38,277.69 75.23,278.08 78.31,277.31 82.92,275.38 85.50,274.42 89.62,276.54 94.62,277.31 97.31,276.54 101.54,273.08 105.00,273.85 109.62,275.38 115.38,276.77 117.31,275.38 121.15,272.69 124.50,272.65 128.62,274.15 135.15,274.92 140.15,270.69 143.23,270.69 147.08,272.23 151.69,273.00 154.77,273.38 158.62,271.08 163.50,269.35 167.62,271.85 173.00,272.62 179.15,268.77 185.31,268.62 190.69,271.08 194.54,272.62 197.62,273.00 202.50,272.71 206.23,274.53 210.46,277.07 213.84,279.19 216.81,274.96 221.46,271.83 227.38,270.30 232.46,268.19 237.53,264.38 242.78,260.15" fill="none" stroke="#c98039" stroke-width="1.15" stroke-linejoin="round"/>
<circle cx="49.00" cy="283.08" r="1.2" fill="#0e4a3d"/>
<circle cx="50.63" cy="291.54" r="1.2" fill="#0e4a3d"/>
<circle cx="52.26" cy="275.15" r="1.2" fill="#0e4a3d"/>
<circle cx="53.89" cy="283.62" r="1.2" fill="#0e4a3d"/>
<circle cx="55.52" cy="285.15" r="1.2" fill="#0e4a3d"/>
<circle cx="57.15" cy="289.23" r="1.2" fill="#0e4a3d"/>
<circle cx="58.78" cy="281.77" r="1.2" fill="#0e4a3d"/>
<circle cx="60.41" cy="282.31" r="1.2" fill="#0e4a3d"/>
<circle cx="62.04" cy="278.85" r="1.2" fill="#0e4a3d"/>
<circle cx="63.67" cy="281.92" r="1.2" fill="#0e4a3d"/>
<circle cx="65.30" cy="284.62" r="1.2" fill="#0e4a3d"/>
<circle cx="66.93" cy="268.85" r="1.2" fill="#0e4a3d"/>
<circle cx="68.56" cy="280.38" r="1.2" fill="#0e4a3d"/>
<circle cx="70.19" cy="291.54" r="1.2" fill="#0e4a3d"/>
<circle cx="71.82" cy="279.77" r="1.2" fill="#0e4a3d"/>
<circle cx="73.45" cy="279.46" r="1.2" fill="#0e4a3d"/>
<circle cx="75.08" cy="273.85" r="1.2" fill="#0e4a3d"/>
<circle cx="76.71" cy="276.92" r="1.2" fill="#0e4a3d"/>
<circle cx="78.34" cy="277.69" r="1.2" fill="#0e4a3d"/>
<circle cx="79.97" cy="273.31" r="1.2" fill="#0e4a3d"/>
<circle cx="81.60" cy="276.92" r="1.2" fill="#0e4a3d"/>
<circle cx="83.23" cy="275.62" r="1.2" fill="#0e4a3d"/>
<circle cx="84.86" cy="282.69" r="1.2" fill="#0e4a3d"/>
<circle cx="86.49" cy="271.54" r="1.2" fill="#0e4a3d"/>
<circle cx="88.12" cy="271.92" r="1.2" fill="#0e4a3d"/>
<circle cx="89.75" cy="272.69" r="1.2" fill="#0e4a3d"/>
<circle cx="91.38" cy="271.92" r="1.2" fill="#0e4a3d"/>
<circle cx="93.01" cy="274.46" r="1.2" fill="#0e4a3d"/>
<circle cx="94.64" cy="269.62" r="1.2" fill="#0e4a3d"/>
<circle cx="96.27" cy="275.77" r="1.2" fill="#0e4a3d"/>
<circle cx="97.90" cy="282.46" r="1.2" fill="#0e4a3d"/>
<circle cx="99.53" cy="268.62" r="1.2" fill="#0e4a3d"/>
<circle cx="101.16" cy="276.00" r="1.2" fill="#0e4a3d"/>
<circle cx="102.79" cy="271.38" r="1.2" fill="#0e4a3d"/>
<circle cx="104.42" cy="277.08" r="1.2" fill="#0e4a3d"/>
<circle cx="106.05" cy="266.31" r="1.2" fill="#0e4a3d"/>
<circle cx="107.68" cy="265.23" r="1.2" fill="#0e4a3d"/>
<circle cx="109.31" cy="281.38" r="1.2" fill="#0e4a3d"/>
<circle cx="110.94" cy="264.23" r="1.2" fill="#0e4a3d"/>
<circle cx="112.57" cy="269.85" r="1.2" fill="#0e4a3d"/>
<circle cx="114.20" cy="266.92" r="1.2" fill="#0e4a3d"/>
<circle cx="115.83" cy="276.77" r="1.2" fill="#0e4a3d"/>
<circle cx="117.46" cy="273.46" r="1.2" fill="#0e4a3d"/>
<circle cx="119.09" cy="262.92" r="1.2" fill="#0e4a3d"/>
<circle cx="120.72" cy="266.31" r="1.2" fill="#0e4a3d"/>
<circle cx="122.35" cy="276.31" r="1.2" fill="#0e4a3d"/>
<circle cx="123.98" cy="273.46" r="1.2" fill="#0e4a3d"/>
<circle cx="127.24" cy="259.54" r="1.2" fill="#0e4a3d"/>
<circle cx="128.87" cy="277.23" r="1.2" fill="#0e4a3d"/>
<circle cx="130.50" cy="275.08" r="1.2" fill="#0e4a3d"/>
<circle cx="132.13" cy="270.92" r="1.2" fill="#0e4a3d"/>
<circle cx="133.76" cy="271.69" r="1.2" fill="#0e4a3d"/>
<circle cx="135.39" cy="275.69" r="1.2" fill="#0e4a3d"/>
<circle cx="137.02" cy="265.54" r="1.2" fill="#0e4a3d"/>
<circle cx="138.65" cy="268.77" r="1.2" fill="#0e4a3d"/>
<circle cx="140.28" cy="266.08" r="1.2" fill="#0e4a3d"/>
<circle cx="141.91" cy="259.15" r="1.2" fill="#0e4a3d"/>
<circle cx="143.54" cy="264.54" r="1.2" fill="#0e4a3d"/>
<circle cx="145.17" cy="261.08" r="1.2" fill="#0e4a3d"/>
<circle cx="146.80" cy="268.15" r="1.2" fill="#0e4a3d"/>
<circle cx="148.43" cy="274.77" r="1.2" fill="#0e4a3d"/>
<circle cx="150.06" cy="261.69" r="1.2" fill="#0e4a3d"/>
<circle cx="151.69" cy="272.77" r="1.2" fill="#0e4a3d"/>
<circle cx="153.32" cy="272.00" r="1.2" fill="#0e4a3d"/>
<circle cx="154.95" cy="274.77" r="1.2" fill="#0e4a3d"/>
<circle cx="156.58" cy="266.31" r="1.2" fill="#0e4a3d"/>
<circle cx="158.21" cy="273.38" r="1.2" fill="#0e4a3d"/>
<circle cx="159.84" cy="274.54" r="1.2" fill="#0e4a3d"/>
<circle cx="161.47" cy="270.92" r="1.2" fill="#0e4a3d"/>
<circle cx="163.10" cy="273.00" r="1.2" fill="#0e4a3d"/>
<circle cx="164.73" cy="268.62" r="1.2" fill="#0e4a3d"/>
<circle cx="166.36" cy="269.54" r="1.2" fill="#0e4a3d"/>
<circle cx="167.99" cy="272.62" r="1.2" fill="#0e4a3d"/>
<circle cx="169.62" cy="272.77" r="1.2" fill="#0e4a3d"/>
<circle cx="171.25" cy="279.15" r="1.2" fill="#0e4a3d"/>
<circle cx="172.88" cy="268.15" r="1.2" fill="#0e4a3d"/>
<circle cx="174.51" cy="278.15" r="1.2" fill="#0e4a3d"/>
<circle cx="176.14" cy="277.38" r="1.2" fill="#0e4a3d"/>
<circle cx="177.77" cy="271.46" r="1.2" fill="#0e4a3d"/>
<circle cx="179.40" cy="274.31" r="1.2" fill="#0e4a3d"/>
<circle cx="181.03" cy="271.46" r="1.2" fill="#0e4a3d"/>
<circle cx="182.66" cy="276.31" r="1.2" fill="#0e4a3d"/>
<circle cx="184.29" cy="272.77" r="1.2" fill="#0e4a3d"/>
<circle cx="185.92" cy="268.38" r="1.2" fill="#0e4a3d"/>
<circle cx="187.55" cy="272.77" r="1.2" fill="#0e4a3d"/>
<circle cx="189.18" cy="274.77" r="1.2" fill="#0e4a3d"/>
<circle cx="190.81" cy="281.69" r="1.2" fill="#0e4a3d"/>
<circle cx="192.44" cy="278.38" r="1.2" fill="#0e4a3d"/>
<circle cx="194.07" cy="279.54" r="1.2" fill="#0e4a3d"/>
<circle cx="195.70" cy="280.15" r="1.2" fill="#0e4a3d"/>
<circle cx="197.33" cy="266.85" r="1.2" fill="#0e4a3d"/>
<circle cx="198.96" cy="274.31" r="1.2" fill="#0e4a3d"/>
<circle cx="200.59" cy="270.46" r="1.2" fill="#0e4a3d"/>
<circle cx="202.22" cy="274.31" r="1.2" fill="#0e4a3d"/>
<circle cx="203.85" cy="271.83" r="1.2" fill="#0e4a3d"/>
<circle cx="205.48" cy="270.98" r="1.2" fill="#0e4a3d"/>
<circle cx="207.11" cy="289.76" r="1.2" fill="#0e4a3d"/>
<circle cx="208.74" cy="267.34" r="1.2" fill="#0e4a3d"/>
<circle cx="210.37" cy="275.80" r="1.2" fill="#0e4a3d"/>
<circle cx="212.00" cy="279.19" r="1.2" fill="#0e4a3d"/>
<circle cx="213.63" cy="279.78" r="1.2" fill="#0e4a3d"/>
<circle cx="215.26" cy="276.90" r="1.2" fill="#0e4a3d"/>
<circle cx="216.89" cy="274.96" r="1.2" fill="#0e4a3d"/>
<circle cx="218.52" cy="276.90" r="1.2" fill="#0e4a3d"/>
<circle cx="220.15" cy="264.38" r="1.2" fill="#0e4a3d"/>
<circle cx="221.78" cy="276.90" r="1.2" fill="#0e4a3d"/>
<circle cx="223.41" cy="275.55" r="1.2" fill="#0e4a3d"/>
<circle cx="225.04" cy="267.94" r="1.2" fill="#0e4a3d"/>
<circle cx="226.67" cy="271.83" r="1.2" fill="#0e4a3d"/>
<circle cx="228.30" cy="269.29" r="1.2" fill="#0e4a3d"/>
<circle cx="229.93" cy="274.11" r="1.2" fill="#0e4a3d"/>
<circle cx="231.56" cy="267.94" r="1.2" fill="#0e4a3d"/>
<circle cx="233.19" cy="269.63" r="1.2" fill="#0e4a3d"/>
<circle cx="234.82" cy="267.34" r="1.2" fill="#0e4a3d"/>
<circle cx="236.45" cy="266.75" r="1.2" fill="#0e4a3d"/>
<circle cx="238.08" cy="256.94" r="1.2" fill="#0e4a3d"/>
<circle cx="239.71" cy="263.11" r="1.2" fill="#0e4a3d"/>
<circle cx="241.34" cy="261.00" r="1.2" fill="#0e4a3d"/>
<circle cx="242.97" cy="260.83" r="1.2" fill="#0e4a3d"/>
<rect x="39.80" y="245.50" width="212.40" height="134.70" fill="none" stroke="#262626" stroke-width="1.35"/>
<line x1="37.00" y1="374.45" x2="39.80" y2="374.45" stroke="#262626" stroke-width="1.1"/>
<text x="34.20" y="376.70" font-size="8.4" fill="#3a3a3a" stroke="#3a3a3a" stroke-width="0.25" text-anchor="end">0</text>
<line x1="37.00" y1="335.12" x2="39.80" y2="335.12" stroke="#262626" stroke-width="1.1"/>
<text x="34.20" y="337.37" font-size="8.4" fill="#3a3a3a" stroke="#3a3a3a" stroke-width="0.25" text-anchor="end">40</text>
<line x1="37.00" y1="295.79" x2="39.80" y2="295.79" stroke="#262626" stroke-width="1.1"/>
<text x="34.20" y="298.04" font-size="8.4" fill="#3a3a3a" stroke="#3a3a3a" stroke-width="0.25" text-anchor="end">80</text>
<line x1="37.00" y1="256.46" x2="39.80" y2="256.46" stroke="#262626" stroke-width="1.1"/>
<text x="34.20" y="258.71" font-size="8.4" fill="#3a3a3a" stroke="#3a3a3a" stroke-width="0.25" text-anchor="end">120</text>
<line x1="49.00" y1="380.20" x2="49.00" y2="383.40" stroke="#262626" stroke-width="1.1"/>
<text transform="translate(44.70,386.40) rotate(-45)" x="0" y="0" font-size="7.9" fill="#3a3a3a" stroke="#3a3a3a" stroke-width="0.25" text-anchor="end" dominant-baseline="hanging">2010</text>
<line x1="68.56" y1="380.20" x2="68.56" y2="383.40" stroke="#262626" stroke-width="1.1"/>
<text transform="translate(64.26,386.40) rotate(-45)" x="0" y="0" font-size="7.9" fill="#3a3a3a" stroke="#3a3a3a" stroke-width="0.25" text-anchor="end" dominant-baseline="hanging">2011</text>
<line x1="88.12" y1="380.20" x2="88.12" y2="383.40" stroke="#262626" stroke-width="1.1"/>
<text transform="translate(83.82,386.40) rotate(-45)" x="0" y="0" font-size="7.9" fill="#3a3a3a" stroke="#3a3a3a" stroke-width="0.25" text-anchor="end" dominant-baseline="hanging">2012</text>
<line x1="107.68" y1="380.20" x2="107.68" y2="383.40" stroke="#262626" stroke-width="1.1"/>
<text transform="translate(103.38,386.40) rotate(-45)" x="0" y="0" font-size="7.9" fill="#3a3a3a" stroke="#3a3a3a" stroke-width="0.25" text-anchor="end" dominant-baseline="hanging">2013</text>
<line x1="127.24" y1="380.20" x2="127.24" y2="383.40" stroke="#262626" stroke-width="1.1"/>
<text transform="translate(122.94,386.40) rotate(-45)" x="0" y="0" font-size="7.9" fill="#3a3a3a" stroke="#3a3a3a" stroke-width="0.25" text-anchor="end" dominant-baseline="hanging">2014</text>
<line x1="146.80" y1="380.20" x2="146.80" y2="383.40" stroke="#262626" stroke-width="1.1"/>
<text transform="translate(142.50,386.40) rotate(-45)" x="0" y="0" font-size="7.9" fill="#3a3a3a" stroke="#3a3a3a" stroke-width="0.25" text-anchor="end" dominant-baseline="hanging">2015</text>
<line x1="166.36" y1="380.20" x2="166.36" y2="383.40" stroke="#262626" stroke-width="1.1"/>
<text transform="translate(162.06,386.40) rotate(-45)" x="0" y="0" font-size="7.9" fill="#3a3a3a" stroke="#3a3a3a" stroke-width="0.25" text-anchor="end" dominant-baseline="hanging">2016</text>
<line x1="185.92" y1="380.20" x2="185.92" y2="383.40" stroke="#262626" stroke-width="1.1"/>
<text transform="translate(181.62,386.40) rotate(-45)" x="0" y="0" font-size="7.9" fill="#3a3a3a" stroke="#3a3a3a" stroke-width="0.25" text-anchor="end" dominant-baseline="hanging">2017</text>
<line x1="205.48" y1="380.20" x2="205.48" y2="383.40" stroke="#262626" stroke-width="1.1"/>
<text transform="translate(201.18,386.40) rotate(-45)" x="0" y="0" font-size="7.9" fill="#3a3a3a" stroke="#3a3a3a" stroke-width="0.25" text-anchor="end" dominant-baseline="hanging">2018</text>
<line x1="225.04" y1="380.20" x2="225.04" y2="383.40" stroke="#262626" stroke-width="1.1"/>
<text transform="translate(220.74,386.40) rotate(-45)" x="0" y="0" font-size="7.9" fill="#3a3a3a" stroke="#3a3a3a" stroke-width="0.25" text-anchor="end" dominant-baseline="hanging">2019</text>
<line x1="244.60" y1="380.20" x2="244.60" y2="383.40" stroke="#262626" stroke-width="1.1"/>
<text transform="translate(240.30,386.40) rotate(-45)" x="0" y="0" font-size="7.9" fill="#3a3a3a" stroke="#3a3a3a" stroke-width="0.25" text-anchor="end" dominant-baseline="hanging">2020</text>
<text x="145.95" y="414.60" font-size="8.6" fill="#1a1a1a" stroke="#1a1a1a" stroke-width="0.45" text-anchor="middle" textLength="14.0" lengthAdjust="spacingAndGlyphs">Time</text>
<text transform="translate(14.50,310.40) rotate(-90)" x="0" y="0" font-size="9.6" fill="#1a1a1a" stroke="#1a1a1a" stroke-width="0.45" text-anchor="middle" textLength="12.6" lengthAdjust="spacingAndGlyphs">Rate</text>
<text x="267.60" y="228.80" font-size="11.6" font-weight="bold" fill="#000">D</text>
<text x="403.75" y="229.40" font-size="9.35" fill="#1a1a1a" stroke="#1a1a1a" stroke-width="0.2" text-anchor="middle" textLength="66.20" lengthAdjust="spacingAndGlyphs">Inpatient 30-Day</text>
<text x="404.20" y="240.00" font-size="9.35" fill="#1a1a1a" stroke="#1a1a1a" stroke-width="0.2" text-anchor="middle" textLength="161.50" lengthAdjust="spacingAndGlyphs">Readmissions per 100 Adult Discharges</text>
<line x1="454.40" y1="246.60" x2="454.40" y2="379.30" stroke="#f3fbfd" stroke-width="5"/>
<path d="M454.40 373.10V376.90M454.40 367.92V371.72M454.40 362.74V366.54M454.40 357.56V361.36M454.40 352.38V356.18M454.40 347.20V351.00M454.40 342.02V345.82M454.40 336.84V340.64M454.40 331.66V335.46M454.40 326.48V330.28M454.40 321.30V325.10M454.40 316.12V319.92M454.40 310.94V314.74M454.40 305.76V309.56M454.40 300.58V304.38M454.40 295.40V299.20M454.40 290.22V294.02M454.40 285.04V288.84M454.40 279.86V283.66M454.40 274.68V278.48M454.40 269.50V273.30M454.40 264.32V268.12M454.40 259.14V262.94M454.40 253.96V257.76M454.40 248.78V252.58" stroke="#e2f3f8" stroke-width="2.6" fill="none"/>
<path d="M454.40 373.90V376.10M454.40 368.72V370.92M454.40 363.54V365.74M454.40 358.36V360.56M454.40 353.18V355.38M454.40 348.00V350.20M454.40 342.82V345.02M454.40 337.64V339.84M454.40 332.46V334.66M454.40 327.28V329.48M454.40 322.10V324.30M454.40 316.92V319.12M454.40 311.74V313.94M454.40 306.56V308.76M454.40 301.38V303.58M454.40 296.20V298.40M454.40 291.02V293.22M454.40 285.84V288.04M454.40 280.66V282.86M454.40 275.48V277.68M454.40 270.30V272.50M454.40 265.12V267.32M454.40 259.94V262.14M454.40 254.76V256.96M454.40 249.58V251.78" stroke="#767f88" stroke-width="1" fill="none"/>
<line x1="474.24" y1="246.60" x2="474.24" y2="379.30" stroke="#f3fbfd" stroke-width="5"/>
<path d="M474.24 373.10V376.90M474.24 367.92V371.72M474.24 362.74V366.54M474.24 357.56V361.36M474.24 352.38V356.18M474.24 347.20V351.00M474.24 342.02V345.82M474.24 336.84V340.64M474.24 331.66V335.46M474.24 326.48V330.28M474.24 321.30V325.10M474.24 316.12V319.92M474.24 310.94V314.74M474.24 305.76V309.56M474.24 300.58V304.38M474.24 295.40V299.20M474.24 290.22V294.02M474.24 285.04V288.84M474.24 279.86V283.66M474.24 274.68V278.48M474.24 269.50V273.30M474.24 264.32V268.12M474.24 259.14V262.94M474.24 253.96V257.76M474.24 248.78V252.58" stroke="#e2f3f8" stroke-width="2.6" fill="none"/>
<path d="M474.24 373.90V376.10M474.24 368.72V370.92M474.24 363.54V365.74M474.24 358.36V360.56M474.24 353.18V355.38M474.24 348.00V350.20M474.24 342.82V345.02M474.24 337.64V339.84M474.24 332.46V334.66M474.24 327.28V329.48M474.24 322.10V324.30M474.24 316.92V319.12M474.24 311.74V313.94M474.24 306.56V308.76M474.24 301.38V303.58M474.24 296.20V298.40M474.24 291.02V293.22M474.24 285.84V288.04M474.24 280.66V282.86M474.24 275.48V277.68M474.24 270.30V272.50M474.24 265.12V267.32M474.24 259.94V262.14M474.24 254.76V256.96M474.24 249.58V251.78" stroke="#767f88" stroke-width="1" fill="none"/>
<polyline points="305.60,282.69 309.15,283.08 313.00,281.92 318.38,280.00 323.00,280.38 326.08,282.31 329.15,283.46 333.00,281.92 336.85,280.38 342.50,280.58 345.85,281.92 351.23,283.08 355.85,280.38 360.46,280.00 365.08,281.54 368.15,283.31 372.77,281.92 377.38,280.77 381.50,280.58 385.62,282.31 389.46,283.85 393.31,281.54 397.15,279.46 401.00,279.62 404.08,280.00 407.92,281.92 413.31,280.38 417.15,279.46 420.50,279.46 423.85,281.15 427.69,281.92 433.08,280.38 439.23,278.85 445.38,280.38 452.31,280.38 454.62,281.54 456.92,277.69 459.50,276.63 464.08,278.84 468.31,280.11 472.54,279.26 475.92,278.84 481.00,276.47 486.07,277.15 491.15,273.34 496.23,269.96 502.32,265.30" fill="none" stroke="#c98039" stroke-width="1.15" stroke-linejoin="round"/>
<circle cx="305.60" cy="293.85" r="1.2" fill="#0e4a3d"/>
<circle cx="307.25" cy="280.00" r="1.2" fill="#0e4a3d"/>
<circle cx="308.91" cy="290.54" r="1.2" fill="#0e4a3d"/>
<circle cx="310.56" cy="282.54" r="1.2" fill="#0e4a3d"/>
<circle cx="312.21" cy="286.38" r="1.2" fill="#0e4a3d"/>
<circle cx="313.87" cy="283.08" r="1.2" fill="#0e4a3d"/>
<circle cx="315.52" cy="279.00" r="1.2" fill="#0e4a3d"/>
<circle cx="317.17" cy="290.00" r="1.2" fill="#0e4a3d"/>
<circle cx="318.83" cy="279.23" r="1.2" fill="#0e4a3d"/>
<circle cx="320.48" cy="285.38" r="1.2" fill="#0e4a3d"/>
<circle cx="322.13" cy="286.54" r="1.2" fill="#0e4a3d"/>
<circle cx="323.79" cy="279.77" r="1.2" fill="#0e4a3d"/>
<circle cx="325.44" cy="286.92" r="1.2" fill="#0e4a3d"/>
<circle cx="327.09" cy="277.92" r="1.2" fill="#0e4a3d"/>
<circle cx="328.75" cy="290.54" r="1.2" fill="#0e4a3d"/>
<circle cx="330.40" cy="279.77" r="1.2" fill="#0e4a3d"/>
<circle cx="332.05" cy="281.54" r="1.2" fill="#0e4a3d"/>
<circle cx="333.71" cy="277.46" r="1.2" fill="#0e4a3d"/>
<circle cx="335.36" cy="278.23" r="1.2" fill="#0e4a3d"/>
<circle cx="337.01" cy="279.62" r="1.2" fill="#0e4a3d"/>
<circle cx="338.67" cy="275.62" r="1.2" fill="#0e4a3d"/>
<circle cx="340.32" cy="283.62" r="1.2" fill="#0e4a3d"/>
<circle cx="341.97" cy="281.15" r="1.2" fill="#0e4a3d"/>
<circle cx="343.63" cy="286.54" r="1.2" fill="#0e4a3d"/>
<circle cx="345.28" cy="284.62" r="1.2" fill="#0e4a3d"/>
<circle cx="346.93" cy="276.69" r="1.2" fill="#0e4a3d"/>
<circle cx="348.59" cy="273.46" r="1.2" fill="#0e4a3d"/>
<circle cx="350.24" cy="277.31" r="1.2" fill="#0e4a3d"/>
<circle cx="351.89" cy="283.85" r="1.2" fill="#0e4a3d"/>
<circle cx="353.55" cy="272.69" r="1.2" fill="#0e4a3d"/>
<circle cx="355.20" cy="274.85" r="1.2" fill="#0e4a3d"/>
<circle cx="356.85" cy="279.62" r="1.2" fill="#0e4a3d"/>
<circle cx="358.51" cy="279.46" r="1.2" fill="#0e4a3d"/>
<circle cx="360.16" cy="279.00" r="1.2" fill="#0e4a3d"/>
<circle cx="361.81" cy="285.77" r="1.2" fill="#0e4a3d"/>
<circle cx="363.47" cy="284.62" r="1.2" fill="#0e4a3d"/>
<circle cx="365.12" cy="283.08" r="1.2" fill="#0e4a3d"/>
<circle cx="366.77" cy="281.54" r="1.2" fill="#0e4a3d"/>
<circle cx="368.43" cy="280.54" r="1.2" fill="#0e4a3d"/>
<circle cx="370.08" cy="274.08" r="1.2" fill="#0e4a3d"/>
<circle cx="371.73" cy="276.69" r="1.2" fill="#0e4a3d"/>
<circle cx="373.39" cy="273.85" r="1.2" fill="#0e4a3d"/>
<circle cx="375.04" cy="279.46" r="1.2" fill="#0e4a3d"/>
<circle cx="376.69" cy="284.23" r="1.2" fill="#0e4a3d"/>
<circle cx="378.35" cy="277.31" r="1.2" fill="#0e4a3d"/>
<circle cx="380.00" cy="278.23" r="1.2" fill="#0e4a3d"/>
<circle cx="381.65" cy="283.46" r="1.2" fill="#0e4a3d"/>
<circle cx="383.31" cy="277.92" r="1.2" fill="#0e4a3d"/>
<circle cx="384.96" cy="282.85" r="1.2" fill="#0e4a3d"/>
<circle cx="386.61" cy="279.62" r="1.2" fill="#0e4a3d"/>
<circle cx="388.27" cy="289.77" r="1.2" fill="#0e4a3d"/>
<circle cx="389.92" cy="283.62" r="1.2" fill="#0e4a3d"/>
<circle cx="391.57" cy="289.00" r="1.2" fill="#0e4a3d"/>
<circle cx="393.23" cy="286.15" r="1.2" fill="#0e4a3d"/>
<circle cx="394.88" cy="281.31" r="1.2" fill="#0e4a3d"/>
<circle cx="396.53" cy="277.92" r="1.2" fill="#0e4a3d"/>
<circle cx="398.19" cy="274.08" r="1.2" fill="#0e4a3d"/>
<circle cx="399.84" cy="270.54" r="1.2" fill="#0e4a3d"/>
<circle cx="401.49" cy="275.62" r="1.2" fill="#0e4a3d"/>
<circle cx="403.15" cy="273.31" r="1.2" fill="#0e4a3d"/>
<circle cx="404.80" cy="279.77" r="1.2" fill="#0e4a3d"/>
<circle cx="406.45" cy="277.46" r="1.2" fill="#0e4a3d"/>
<circle cx="408.11" cy="280.77" r="1.2" fill="#0e4a3d"/>
<circle cx="409.76" cy="277.31" r="1.2" fill="#0e4a3d"/>
<circle cx="411.41" cy="287.69" r="1.2" fill="#0e4a3d"/>
<circle cx="413.07" cy="280.54" r="1.2" fill="#0e4a3d"/>
<circle cx="414.72" cy="277.92" r="1.2" fill="#0e4a3d"/>
<circle cx="416.37" cy="278.69" r="1.2" fill="#0e4a3d"/>
<circle cx="418.03" cy="282.54" r="1.2" fill="#0e4a3d"/>
<circle cx="419.68" cy="285.62" r="1.2" fill="#0e4a3d"/>
<circle cx="421.33" cy="276.69" r="1.2" fill="#0e4a3d"/>
<circle cx="422.99" cy="288.46" r="1.2" fill="#0e4a3d"/>
<circle cx="424.64" cy="282.54" r="1.2" fill="#0e4a3d"/>
<circle cx="426.29" cy="277.92" r="1.2" fill="#0e4a3d"/>
<circle cx="427.95" cy="289.00" r="1.2" fill="#0e4a3d"/>
<circle cx="429.60" cy="295.38" r="1.2" fill="#0e4a3d"/>
<circle cx="431.25" cy="289.00" r="1.2" fill="#0e4a3d"/>
<circle cx="432.91" cy="291.77" r="1.2" fill="#0e4a3d"/>
<circle cx="434.56" cy="280.77" r="1.2" fill="#0e4a3d"/>
<circle cx="436.21" cy="284.85" r="1.2" fill="#0e4a3d"/>
<circle cx="437.87" cy="279.77" r="1.2" fill="#0e4a3d"/>
<circle cx="439.52" cy="281.31" r="1.2" fill="#0e4a3d"/>
<circle cx="441.17" cy="273.85" r="1.2" fill="#0e4a3d"/>
<circle cx="442.83" cy="281.15" r="1.2" fill="#0e4a3d"/>
<circle cx="444.48" cy="276.69" r="1.2" fill="#0e4a3d"/>
<circle cx="446.13" cy="279.00" r="1.2" fill="#0e4a3d"/>
<circle cx="447.79" cy="274.08" r="1.2" fill="#0e4a3d"/>
<circle cx="449.44" cy="281.00" r="1.2" fill="#0e4a3d"/>
<circle cx="451.09" cy="280.00" r="1.2" fill="#0e4a3d"/>
<circle cx="452.75" cy="280.38" r="1.2" fill="#0e4a3d"/>
<circle cx="454.40" cy="283.85" r="1.2" fill="#0e4a3d"/>
<circle cx="456.05" cy="278.85" r="1.2" fill="#0e4a3d"/>
<circle cx="457.71" cy="268.46" r="1.2" fill="#0e4a3d"/>
<circle cx="459.36" cy="284.85" r="1.2" fill="#0e4a3d"/>
<circle cx="461.01" cy="272.24" r="1.2" fill="#0e4a3d"/>
<circle cx="462.67" cy="273.34" r="1.2" fill="#0e4a3d"/>
<circle cx="464.32" cy="270.38" r="1.2" fill="#0e4a3d"/>
<circle cx="465.97" cy="284.59" r="1.2" fill="#0e4a3d"/>
<circle cx="467.63" cy="288.57" r="1.2" fill="#0e4a3d"/>
<circle cx="469.28" cy="276.13" r="1.2" fill="#0e4a3d"/>
<circle cx="470.93" cy="276.13" r="1.2" fill="#0e4a3d"/>
<circle cx="472.59" cy="283.75" r="1.2" fill="#0e4a3d"/>
<circle cx="474.24" cy="282.23" r="1.2" fill="#0e4a3d"/>
<circle cx="475.89" cy="276.73" r="1.2" fill="#0e4a3d"/>
<circle cx="477.55" cy="283.75" r="1.2" fill="#0e4a3d"/>
<circle cx="479.20" cy="279.52" r="1.2" fill="#0e4a3d"/>
<circle cx="480.85" cy="273.93" r="1.2" fill="#0e4a3d"/>
<circle cx="482.51" cy="275.46" r="1.2" fill="#0e4a3d"/>
<circle cx="484.16" cy="277.15" r="1.2" fill="#0e4a3d"/>
<circle cx="485.81" cy="285.44" r="1.2" fill="#0e4a3d"/>
<circle cx="487.47" cy="275.63" r="1.2" fill="#0e4a3d"/>
<circle cx="489.12" cy="282.90" r="1.2" fill="#0e4a3d"/>
<circle cx="490.77" cy="267.67" r="1.2" fill="#0e4a3d"/>
<circle cx="492.43" cy="271.23" r="1.2" fill="#0e4a3d"/>
<circle cx="494.08" cy="276.98" r="1.2" fill="#0e4a3d"/>
<circle cx="495.73" cy="270.80" r="1.2" fill="#0e4a3d"/>
<circle cx="497.39" cy="267.17" r="1.2" fill="#0e4a3d"/>
<circle cx="499.04" cy="274.44" r="1.2" fill="#0e4a3d"/>
<circle cx="500.69" cy="262.94" r="1.2" fill="#0e4a3d"/>
<circle cx="502.35" cy="265.73" r="1.2" fill="#0e4a3d"/>
<rect x="295.80" y="245.60" width="215.90" height="134.70" fill="none" stroke="#262626" stroke-width="1.35"/>
<line x1="293.00" y1="374.45" x2="295.80" y2="374.45" stroke="#262626" stroke-width="1.1"/>
<text x="290.20" y="376.70" font-size="8.4" fill="#3a3a3a" stroke="#3a3a3a" stroke-width="0.25" text-anchor="end">0</text>
<line x1="293.00" y1="349.85" x2="295.80" y2="349.85" stroke="#262626" stroke-width="1.1"/>
<text x="290.20" y="352.10" font-size="8.4" fill="#3a3a3a" stroke="#3a3a3a" stroke-width="0.25" text-anchor="end">10</text>
<line x1="293.00" y1="325.25" x2="295.80" y2="325.25" stroke="#262626" stroke-width="1.1"/>
<text x="290.20" y="327.50" font-size="8.4" fill="#3a3a3a" stroke="#3a3a3a" stroke-width="0.25" text-anchor="end">20</text>
<line x1="293.00" y1="300.66" x2="295.80" y2="300.66" stroke="#262626" stroke-width="1.1"/>
<text x="290.20" y="302.91" font-size="8.4" fill="#3a3a3a" stroke="#3a3a3a" stroke-width="0.25" text-anchor="end">30</text>
<line x1="293.00" y1="276.06" x2="295.80" y2="276.06" stroke="#262626" stroke-width="1.1"/>
<text x="290.20" y="278.31" font-size="8.4" fill="#3a3a3a" stroke="#3a3a3a" stroke-width="0.25" text-anchor="end">40</text>
<line x1="293.00" y1="251.46" x2="295.80" y2="251.46" stroke="#262626" stroke-width="1.1"/>
<text x="290.20" y="253.71" font-size="8.4" fill="#3a3a3a" stroke="#3a3a3a" stroke-width="0.25" text-anchor="end">50</text>
<line x1="305.60" y1="380.30" x2="305.60" y2="383.50" stroke="#262626" stroke-width="1.1"/>
<text transform="translate(301.30,386.50) rotate(-45)" x="0" y="0" font-size="7.9" fill="#3a3a3a" stroke="#3a3a3a" stroke-width="0.25" text-anchor="end" dominant-baseline="hanging">2010</text>
<line x1="325.44" y1="380.30" x2="325.44" y2="383.50" stroke="#262626" stroke-width="1.1"/>
<text transform="translate(321.14,386.50) rotate(-45)" x="0" y="0" font-size="7.9" fill="#3a3a3a" stroke="#3a3a3a" stroke-width="0.25" text-anchor="end" dominant-baseline="hanging">2011</text>
<line x1="345.28" y1="380.30" x2="345.28" y2="383.50" stroke="#262626" stroke-width="1.1"/>
<text transform="translate(340.98,386.50) rotate(-45)" x="0" y="0" font-size="7.9" fill="#3a3a3a" stroke="#3a3a3a" stroke-width="0.25" text-anchor="end" dominant-baseline="hanging">2012</text>
<line x1="365.12" y1="380.30" x2="365.12" y2="383.50" stroke="#262626" stroke-width="1.1"/>
<text transform="translate(360.82,386.50) rotate(-45)" x="0" y="0" font-size="7.9" fill="#3a3a3a" stroke="#3a3a3a" stroke-width="0.25" text-anchor="end" dominant-baseline="hanging">2013</text>
<line x1="384.96" y1="380.30" x2="384.96" y2="383.50" stroke="#262626" stroke-width="1.1"/>
<text transform="translate(380.66,386.50) rotate(-45)" x="0" y="0" font-size="7.9" fill="#3a3a3a" stroke="#3a3a3a" stroke-width="0.25" text-anchor="end" dominant-baseline="hanging">2014</text>
<line x1="404.80" y1="380.30" x2="404.80" y2="383.50" stroke="#262626" stroke-width="1.1"/>
<text transform="translate(400.50,386.50) rotate(-45)" x="0" y="0" font-size="7.9" fill="#3a3a3a" stroke="#3a3a3a" stroke-width="0.25" text-anchor="end" dominant-baseline="hanging">2015</text>
<line x1="424.64" y1="380.30" x2="424.64" y2="383.50" stroke="#262626" stroke-width="1.1"/>
<text transform="translate(420.34,386.50) rotate(-45)" x="0" y="0" font-size="7.9" fill="#3a3a3a" stroke="#3a3a3a" stroke-width="0.25" text-anchor="end" dominant-baseline="hanging">2016</text>
<line x1="444.48" y1="380.30" x2="444.48" y2="383.50" stroke="#262626" stroke-width="1.1"/>
<text transform="translate(440.18,386.50) rotate(-45)" x="0" y="0" font-size="7.9" fill="#3a3a3a" stroke="#3a3a3a" stroke-width="0.25" text-anchor="end" dominant-baseline="hanging">2017</text>
<line x1="464.32" y1="380.30" x2="464.32" y2="383.50" stroke="#262626" stroke-width="1.1"/>
<text transform="translate(460.02,386.50) rotate(-45)" x="0" y="0" font-size="7.9" fill="#3a3a3a" stroke="#3a3a3a" stroke-width="0.25" text-anchor="end" dominant-baseline="hanging">2018</text>
<line x1="484.16" y1="380.30" x2="484.16" y2="383.50" stroke="#262626" stroke-width="1.1"/>
<text transform="translate(479.86,386.50) rotate(-45)" x="0" y="0" font-size="7.9" fill="#3a3a3a" stroke="#3a3a3a" stroke-width="0.25" text-anchor="end" dominant-baseline="hanging">2019</text>
<line x1="504.00" y1="380.30" x2="504.00" y2="383.50" stroke="#262626" stroke-width="1.1"/>
<text transform="translate(499.70,386.50) rotate(-45)" x="0" y="0" font-size="7.9" fill="#3a3a3a" stroke="#3a3a3a" stroke-width="0.25" text-anchor="end" dominant-baseline="hanging">2020</text>
<text x="402.60" y="414.70" font-size="8.6" fill="#1a1a1a" stroke="#1a1a1a" stroke-width="0.45" text-anchor="middle" textLength="14.0" lengthAdjust="spacingAndGlyphs">Time</text>
<text transform="translate(275.00,308.00) rotate(-90)" x="0" y="0" font-size="9.6" fill="#1a1a1a" stroke="#1a1a1a" stroke-width="0.45" text-anchor="middle" textLength="12.6" lengthAdjust="spacingAndGlyphs">Rate</text>
<text x="7.20" y="442.00" font-size="11.6" font-weight="bold" fill="#000">E</text>
<text x="146.25" y="452.50" font-size="9.35" fill="#1a1a1a" stroke="#1a1a1a" stroke-width="0.2" text-anchor="middle" textLength="163.20" lengthAdjust="spacingAndGlyphs">Inpatient Days per 100 Adult Discharges</text>
<line x1="195.88" y1="458.90" x2="195.88" y2="591.50" stroke="#f3fbfd" stroke-width="5"/>
<path d="M195.88 585.70V589.50M195.88 580.52V584.32M195.88 575.34V579.14M195.88 570.16V573.96M195.88 564.98V568.78M195.88 559.80V563.60M195.88 554.62V558.42M195.88 549.44V553.24M195.88 544.26V548.06M195.88 539.08V542.88M195.88 533.90V537.70M195.88 528.72V532.52M195.88 523.54V527.34M195.88 518.36V522.16M195.88 513.18V516.98M195.88 508.00V511.80M195.88 502.82V506.62M195.88 497.64V501.44M195.88 492.46V496.26M195.88 487.28V491.08M195.88 482.10V485.90M195.88 476.92V480.72M195.88 471.74V475.54M195.88 466.56V470.36M195.88 461.38V465.18" stroke="#e2f3f8" stroke-width="2.6" fill="none"/>
<path d="M195.88 586.50V588.70M195.88 581.32V583.52M195.88 576.14V578.34M195.88 570.96V573.16M195.88 565.78V567.98M195.88 560.60V562.80M195.88 555.42V557.62M195.88 550.24V552.44M195.88 545.06V547.26M195.88 539.88V542.08M195.88 534.70V536.90M195.88 529.52V531.72M195.88 524.34V526.54M195.88 519.16V521.36M195.88 513.98V516.18M195.88 508.80V511.00M195.88 503.62V505.82M195.88 498.44V500.64M195.88 493.26V495.46M195.88 488.08V490.28M195.88 482.90V485.10M195.88 477.72V479.92M195.88 472.54V474.74M195.88 467.36V469.56M195.88 462.18V464.38" stroke="#767f88" stroke-width="1" fill="none"/>
<line x1="215.44" y1="458.90" x2="215.44" y2="591.50" stroke="#f3fbfd" stroke-width="5"/>
<path d="M215.44 585.70V589.50M215.44 580.52V584.32M215.44 575.34V579.14M215.44 570.16V573.96M215.44 564.98V568.78M215.44 559.80V563.60M215.44 554.62V558.42M215.44 549.44V553.24M215.44 544.26V548.06M215.44 539.08V542.88M215.44 533.90V537.70M215.44 528.72V532.52M215.44 523.54V527.34M215.44 518.36V522.16M215.44 513.18V516.98M215.44 508.00V511.80M215.44 502.82V506.62M215.44 497.64V501.44M215.44 492.46V496.26M215.44 487.28V491.08M215.44 482.10V485.90M215.44 476.92V480.72M215.44 471.74V475.54M215.44 466.56V470.36M215.44 461.38V465.18" stroke="#e2f3f8" stroke-width="2.6" fill="none"/>
<path d="M215.44 586.50V588.70M215.44 581.32V583.52M215.44 576.14V578.34M215.44 570.96V573.16M215.44 565.78V567.98M215.44 560.60V562.80M215.44 555.42V557.62M215.44 550.24V552.44M215.44 545.06V547.26M215.44 539.88V542.08M215.44 534.70V536.90M215.44 529.52V531.72M215.44 524.34V526.54M215.44 519.16V521.36M215.44 513.98V516.18M215.44 508.80V511.00M215.44 503.62V505.82M215.44 498.44V500.64M215.44 493.26V495.46M215.44 488.08V490.28M215.44 482.90V485.10M215.44 477.72V479.92M215.44 472.54V474.74M215.44 467.36V469.56M215.44 462.18V464.38" stroke="#767f88" stroke-width="1" fill="none"/>
<polyline points="49.10,468.38 51.38,469.92 55.23,473.77 59.08,473.00 62.15,472.23 65.23,473.38 69.08,470.69 72.15,473.00 76.77,475.54 79.08,474.54 82.15,473.77 85.50,474.54 89.23,472.23 92.69,474.54 96.54,477.23 100.38,475.69 104.23,476.08 108.08,473.77 111.15,475.69 115.00,478.77 118.08,477.23 121.15,477.62 124.50,477.81 127.85,475.08 130.92,477.62 134.77,480.69 139.38,478.77 143.23,479.54 147.08,478.15 149.38,476.46 154.00,480.69 158.62,481.08 163.50,480.85 166.08,479.23 169.92,480.38 173.77,483.85 178.38,481.92 183.00,483.08 186.85,480.38 189.92,482.31 193.38,485.00 196.85,481.54 202.50,479.54 207.08,477.34 210.46,479.88 215.54,482.42 219.77,484.53 222.30,483.27 226.53,481.15 231.61,485.38 235.84,484.53 239.23,482.67 243.03,483.27" fill="none" stroke="#c98039" stroke-width="1.15" stroke-linejoin="round"/>
<circle cx="49.10" cy="474.54" r="1.2" fill="#0e4a3d"/>
<circle cx="50.73" cy="472.62" r="1.2" fill="#0e4a3d"/>
<circle cx="52.36" cy="471.69" r="1.2" fill="#0e4a3d"/>
<circle cx="53.99" cy="471.23" r="1.2" fill="#0e4a3d"/>
<circle cx="55.62" cy="477.23" r="1.2" fill="#0e4a3d"/>
<circle cx="57.25" cy="468.62" r="1.2" fill="#0e4a3d"/>
<circle cx="58.89" cy="473.38" r="1.2" fill="#0e4a3d"/>
<circle cx="60.52" cy="466.08" r="1.2" fill="#0e4a3d"/>
<circle cx="62.15" cy="468.00" r="1.2" fill="#0e4a3d"/>
<circle cx="63.78" cy="477.38" r="1.2" fill="#0e4a3d"/>
<circle cx="65.41" cy="470.15" r="1.2" fill="#0e4a3d"/>
<circle cx="67.04" cy="481.46" r="1.2" fill="#0e4a3d"/>
<circle cx="68.67" cy="475.85" r="1.2" fill="#0e4a3d"/>
<circle cx="70.30" cy="463.77" r="1.2" fill="#0e4a3d"/>
<circle cx="71.93" cy="467.62" r="1.2" fill="#0e4a3d"/>
<circle cx="73.56" cy="475.85" r="1.2" fill="#0e4a3d"/>
<circle cx="75.19" cy="474.77" r="1.2" fill="#0e4a3d"/>
<circle cx="76.82" cy="478.92" r="1.2" fill="#0e4a3d"/>
<circle cx="78.46" cy="483.00" r="1.2" fill="#0e4a3d"/>
<circle cx="80.09" cy="470.92" r="1.2" fill="#0e4a3d"/>
<circle cx="81.72" cy="473.38" r="1.2" fill="#0e4a3d"/>
<circle cx="83.35" cy="481.08" r="1.2" fill="#0e4a3d"/>
<circle cx="84.98" cy="476.85" r="1.2" fill="#0e4a3d"/>
<circle cx="86.61" cy="484.54" r="1.2" fill="#0e4a3d"/>
<circle cx="88.24" cy="473.77" r="1.2" fill="#0e4a3d"/>
<circle cx="89.87" cy="465.31" r="1.2" fill="#0e4a3d"/>
<circle cx="91.50" cy="478.15" r="1.2" fill="#0e4a3d"/>
<circle cx="93.13" cy="471.69" r="1.2" fill="#0e4a3d"/>
<circle cx="94.76" cy="476.46" r="1.2" fill="#0e4a3d"/>
<circle cx="96.39" cy="474.00" r="1.2" fill="#0e4a3d"/>
<circle cx="98.03" cy="477.08" r="1.2" fill="#0e4a3d"/>
<circle cx="99.66" cy="483.00" r="1.2" fill="#0e4a3d"/>
<circle cx="101.29" cy="477.85" r="1.2" fill="#0e4a3d"/>
<circle cx="102.92" cy="473.77" r="1.2" fill="#0e4a3d"/>
<circle cx="104.55" cy="479.69" r="1.2" fill="#0e4a3d"/>
<circle cx="106.18" cy="472.00" r="1.2" fill="#0e4a3d"/>
<circle cx="107.81" cy="473.00" r="1.2" fill="#0e4a3d"/>
<circle cx="109.44" cy="474.77" r="1.2" fill="#0e4a3d"/>
<circle cx="111.07" cy="480.31" r="1.2" fill="#0e4a3d"/>
<circle cx="112.70" cy="476.85" r="1.2" fill="#0e4a3d"/>
<circle cx="114.33" cy="473.77" r="1.2" fill="#0e4a3d"/>
<circle cx="115.96" cy="471.46" r="1.2" fill="#0e4a3d"/>
<circle cx="117.59" cy="476.31" r="1.2" fill="#0e4a3d"/>
<circle cx="119.23" cy="478.38" r="1.2" fill="#0e4a3d"/>
<circle cx="120.86" cy="478.77" r="1.2" fill="#0e4a3d"/>
<circle cx="122.49" cy="471.85" r="1.2" fill="#0e4a3d"/>
<circle cx="124.12" cy="471.08" r="1.2" fill="#0e4a3d"/>
<circle cx="125.75" cy="479.38" r="1.2" fill="#0e4a3d"/>
<circle cx="127.38" cy="469.15" r="1.2" fill="#0e4a3d"/>
<circle cx="129.01" cy="472.46" r="1.2" fill="#0e4a3d"/>
<circle cx="130.64" cy="476.62" r="1.2" fill="#0e4a3d"/>
<circle cx="132.27" cy="475.85" r="1.2" fill="#0e4a3d"/>
<circle cx="133.90" cy="478.15" r="1.2" fill="#0e4a3d"/>
<circle cx="135.53" cy="485.08" r="1.2" fill="#0e4a3d"/>
<circle cx="137.17" cy="476.31" r="1.2" fill="#0e4a3d"/>
<circle cx="138.80" cy="482.00" r="1.2" fill="#0e4a3d"/>
<circle cx="140.43" cy="476.46" r="1.2" fill="#0e4a3d"/>
<circle cx="142.06" cy="482.00" r="1.2" fill="#0e4a3d"/>
<circle cx="143.69" cy="482.77" r="1.2" fill="#0e4a3d"/>
<circle cx="145.32" cy="478.92" r="1.2" fill="#0e4a3d"/>
<circle cx="146.95" cy="478.77" r="1.2" fill="#0e4a3d"/>
<circle cx="148.58" cy="475.54" r="1.2" fill="#0e4a3d"/>
<circle cx="150.21" cy="474.77" r="1.2" fill="#0e4a3d"/>
<circle cx="151.84" cy="475.08" r="1.2" fill="#0e4a3d"/>
<circle cx="153.47" cy="480.69" r="1.2" fill="#0e4a3d"/>
<circle cx="155.10" cy="480.92" r="1.2" fill="#0e4a3d"/>
<circle cx="156.74" cy="477.08" r="1.2" fill="#0e4a3d"/>
<circle cx="158.37" cy="480.92" r="1.2" fill="#0e4a3d"/>
<circle cx="160.00" cy="482.77" r="1.2" fill="#0e4a3d"/>
<circle cx="161.63" cy="475.31" r="1.2" fill="#0e4a3d"/>
<circle cx="163.26" cy="474.15" r="1.2" fill="#0e4a3d"/>
<circle cx="164.89" cy="478.85" r="1.2" fill="#0e4a3d"/>
<circle cx="166.52" cy="472.69" r="1.2" fill="#0e4a3d"/>
<circle cx="168.15" cy="480.15" r="1.2" fill="#0e4a3d"/>
<circle cx="169.78" cy="478.62" r="1.2" fill="#0e4a3d"/>
<circle cx="171.41" cy="488.46" r="1.2" fill="#0e4a3d"/>
<circle cx="173.04" cy="485.77" r="1.2" fill="#0e4a3d"/>
<circle cx="174.67" cy="484.77" r="1.2" fill="#0e4a3d"/>
<circle cx="176.31" cy="484.46" r="1.2" fill="#0e4a3d"/>
<circle cx="177.94" cy="483.85" r="1.2" fill="#0e4a3d"/>
<circle cx="179.57" cy="478.08" r="1.2" fill="#0e4a3d"/>
<circle cx="181.20" cy="479.85" r="1.2" fill="#0e4a3d"/>
<circle cx="182.83" cy="488.08" r="1.2" fill="#0e4a3d"/>
<circle cx="184.46" cy="484.46" r="1.2" fill="#0e4a3d"/>
<circle cx="186.09" cy="484.46" r="1.2" fill="#0e4a3d"/>
<circle cx="187.72" cy="484.46" r="1.2" fill="#0e4a3d"/>
<circle cx="189.35" cy="483.46" r="1.2" fill="#0e4a3d"/>
<circle cx="190.98" cy="486.77" r="1.2" fill="#0e4a3d"/>
<circle cx="192.61" cy="483.69" r="1.2" fill="#0e4a3d"/>
<circle cx="194.24" cy="496.00" r="1.2" fill="#0e4a3d"/>
<circle cx="195.88" cy="477.54" r="1.2" fill="#0e4a3d"/>
<circle cx="197.51" cy="481.92" r="1.2" fill="#0e4a3d"/>
<circle cx="199.14" cy="485.77" r="1.2" fill="#0e4a3d"/>
<circle cx="200.77" cy="480.15" r="1.2" fill="#0e4a3d"/>
<circle cx="202.40" cy="483.23" r="1.2" fill="#0e4a3d"/>
<circle cx="204.03" cy="478.44" r="1.2" fill="#0e4a3d"/>
<circle cx="205.66" cy="473.96" r="1.2" fill="#0e4a3d"/>
<circle cx="207.29" cy="472.01" r="1.2" fill="#0e4a3d"/>
<circle cx="208.92" cy="481.57" r="1.2" fill="#0e4a3d"/>
<circle cx="210.55" cy="485.80" r="1.2" fill="#0e4a3d"/>
<circle cx="212.18" cy="476.50" r="1.2" fill="#0e4a3d"/>
<circle cx="213.81" cy="481.83" r="1.2" fill="#0e4a3d"/>
<circle cx="215.45" cy="482.17" r="1.2" fill="#0e4a3d"/>
<circle cx="217.08" cy="483.01" r="1.2" fill="#0e4a3d"/>
<circle cx="218.71" cy="486.40" r="1.2" fill="#0e4a3d"/>
<circle cx="220.34" cy="487.75" r="1.2" fill="#0e4a3d"/>
<circle cx="221.97" cy="481.57" r="1.2" fill="#0e4a3d"/>
<circle cx="225.23" cy="477.77" r="1.2" fill="#0e4a3d"/>
<circle cx="226.86" cy="476.50" r="1.2" fill="#0e4a3d"/>
<circle cx="228.49" cy="491.73" r="1.2" fill="#0e4a3d"/>
<circle cx="230.12" cy="489.19" r="1.2" fill="#0e4a3d"/>
<circle cx="231.75" cy="480.14" r="1.2" fill="#0e4a3d"/>
<circle cx="233.38" cy="488.93" r="1.2" fill="#0e4a3d"/>
<circle cx="235.02" cy="488.76" r="1.2" fill="#0e4a3d"/>
<circle cx="236.65" cy="480.98" r="1.2" fill="#0e4a3d"/>
<circle cx="238.28" cy="482.17" r="1.2" fill="#0e4a3d"/>
<circle cx="239.91" cy="481.83" r="1.2" fill="#0e4a3d"/>
<circle cx="241.54" cy="480.98" r="1.2" fill="#0e4a3d"/>
<circle cx="243.17" cy="484.37" r="1.2" fill="#0e4a3d"/>
<rect x="39.80" y="457.90" width="212.60" height="134.60" fill="none" stroke="#262626" stroke-width="1.35"/>
<line x1="37.00" y1="586.50" x2="39.80" y2="586.50" stroke="#262626" stroke-width="1.1"/>
<text x="34.20" y="588.75" font-size="8.4" fill="#3a3a3a" stroke="#3a3a3a" stroke-width="0.25" text-anchor="end">0</text>
<line x1="37.00" y1="547.40" x2="39.80" y2="547.40" stroke="#262626" stroke-width="1.1"/>
<text x="34.20" y="549.65" font-size="8.4" fill="#3a3a3a" stroke="#3a3a3a" stroke-width="0.25" text-anchor="end">200</text>
<line x1="37.00" y1="508.30" x2="39.80" y2="508.30" stroke="#262626" stroke-width="1.1"/>
<text x="34.20" y="510.55" font-size="8.4" fill="#3a3a3a" stroke="#3a3a3a" stroke-width="0.25" text-anchor="end">400</text>
<line x1="37.00" y1="469.20" x2="39.80" y2="469.20" stroke="#262626" stroke-width="1.1"/>
<text x="34.20" y="471.45" font-size="8.4" fill="#3a3a3a" stroke="#3a3a3a" stroke-width="0.25" text-anchor="end">600</text>
<line x1="49.10" y1="592.50" x2="49.10" y2="595.70" stroke="#262626" stroke-width="1.1"/>
<text transform="translate(44.80,598.70) rotate(-45)" x="0" y="0" font-size="7.9" fill="#3a3a3a" stroke="#3a3a3a" stroke-width="0.25" text-anchor="end" dominant-baseline="hanging">2010</text>
<line x1="68.67" y1="592.50" x2="68.67" y2="595.70" stroke="#262626" stroke-width="1.1"/>
<text transform="translate(64.37,598.70) rotate(-45)" x="0" y="0" font-size="7.9" fill="#3a3a3a" stroke="#3a3a3a" stroke-width="0.25" text-anchor="end" dominant-baseline="hanging">2011</text>
<line x1="88.24" y1="592.50" x2="88.24" y2="595.70" stroke="#262626" stroke-width="1.1"/>
<text transform="translate(83.94,598.70) rotate(-45)" x="0" y="0" font-size="7.9" fill="#3a3a3a" stroke="#3a3a3a" stroke-width="0.25" text-anchor="end" dominant-baseline="hanging">2012</text>
<line x1="107.81" y1="592.50" x2="107.81" y2="595.70" stroke="#262626" stroke-width="1.1"/>
<text transform="translate(103.51,598.70) rotate(-45)" x="0" y="0" font-size="7.9" fill="#3a3a3a" stroke="#3a3a3a" stroke-width="0.25" text-anchor="end" dominant-baseline="hanging">2013</text>
<line x1="127.38" y1="592.50" x2="127.38" y2="595.70" stroke="#262626" stroke-width="1.1"/>
<text transform="translate(123.08,598.70) rotate(-45)" x="0" y="0" font-size="7.9" fill="#3a3a3a" stroke="#3a3a3a" stroke-width="0.25" text-anchor="end" dominant-baseline="hanging">2014</text>
<line x1="146.95" y1="592.50" x2="146.95" y2="595.70" stroke="#262626" stroke-width="1.1"/>
<text transform="translate(142.65,598.70) rotate(-45)" x="0" y="0" font-size="7.9" fill="#3a3a3a" stroke="#3a3a3a" stroke-width="0.25" text-anchor="end" dominant-baseline="hanging">2015</text>
<line x1="166.52" y1="592.50" x2="166.52" y2="595.70" stroke="#262626" stroke-width="1.1"/>
<text transform="translate(162.22,598.70) rotate(-45)" x="0" y="0" font-size="7.9" fill="#3a3a3a" stroke="#3a3a3a" stroke-width="0.25" text-anchor="end" dominant-baseline="hanging">2016</text>
<line x1="186.09" y1="592.50" x2="186.09" y2="595.70" stroke="#262626" stroke-width="1.1"/>
<text transform="translate(181.79,598.70) rotate(-45)" x="0" y="0" font-size="7.9" fill="#3a3a3a" stroke="#3a3a3a" stroke-width="0.25" text-anchor="end" dominant-baseline="hanging">2017</text>
<line x1="205.66" y1="592.50" x2="205.66" y2="595.70" stroke="#262626" stroke-width="1.1"/>
<text transform="translate(201.36,598.70) rotate(-45)" x="0" y="0" font-size="7.9" fill="#3a3a3a" stroke="#3a3a3a" stroke-width="0.25" text-anchor="end" dominant-baseline="hanging">2018</text>
<line x1="225.23" y1="592.50" x2="225.23" y2="595.70" stroke="#262626" stroke-width="1.1"/>
<text transform="translate(220.93,598.70) rotate(-45)" x="0" y="0" font-size="7.9" fill="#3a3a3a" stroke="#3a3a3a" stroke-width="0.25" text-anchor="end" dominant-baseline="hanging">2019</text>
<line x1="244.80" y1="592.50" x2="244.80" y2="595.70" stroke="#262626" stroke-width="1.1"/>
<text transform="translate(240.50,598.70) rotate(-45)" x="0" y="0" font-size="7.9" fill="#3a3a3a" stroke="#3a3a3a" stroke-width="0.25" text-anchor="end" dominant-baseline="hanging">2020</text>
<text x="146.25" y="626.90" font-size="8.6" fill="#1a1a1a" stroke="#1a1a1a" stroke-width="0.45" text-anchor="middle" textLength="14.0" lengthAdjust="spacingAndGlyphs">Time</text>
<text transform="translate(14.70,523.50) rotate(-90)" x="0" y="0" font-size="9.6" fill="#1a1a1a" stroke="#1a1a1a" stroke-width="0.45" text-anchor="middle" textLength="12.6" lengthAdjust="spacingAndGlyphs">Rate</text>
</svg></body></html>
